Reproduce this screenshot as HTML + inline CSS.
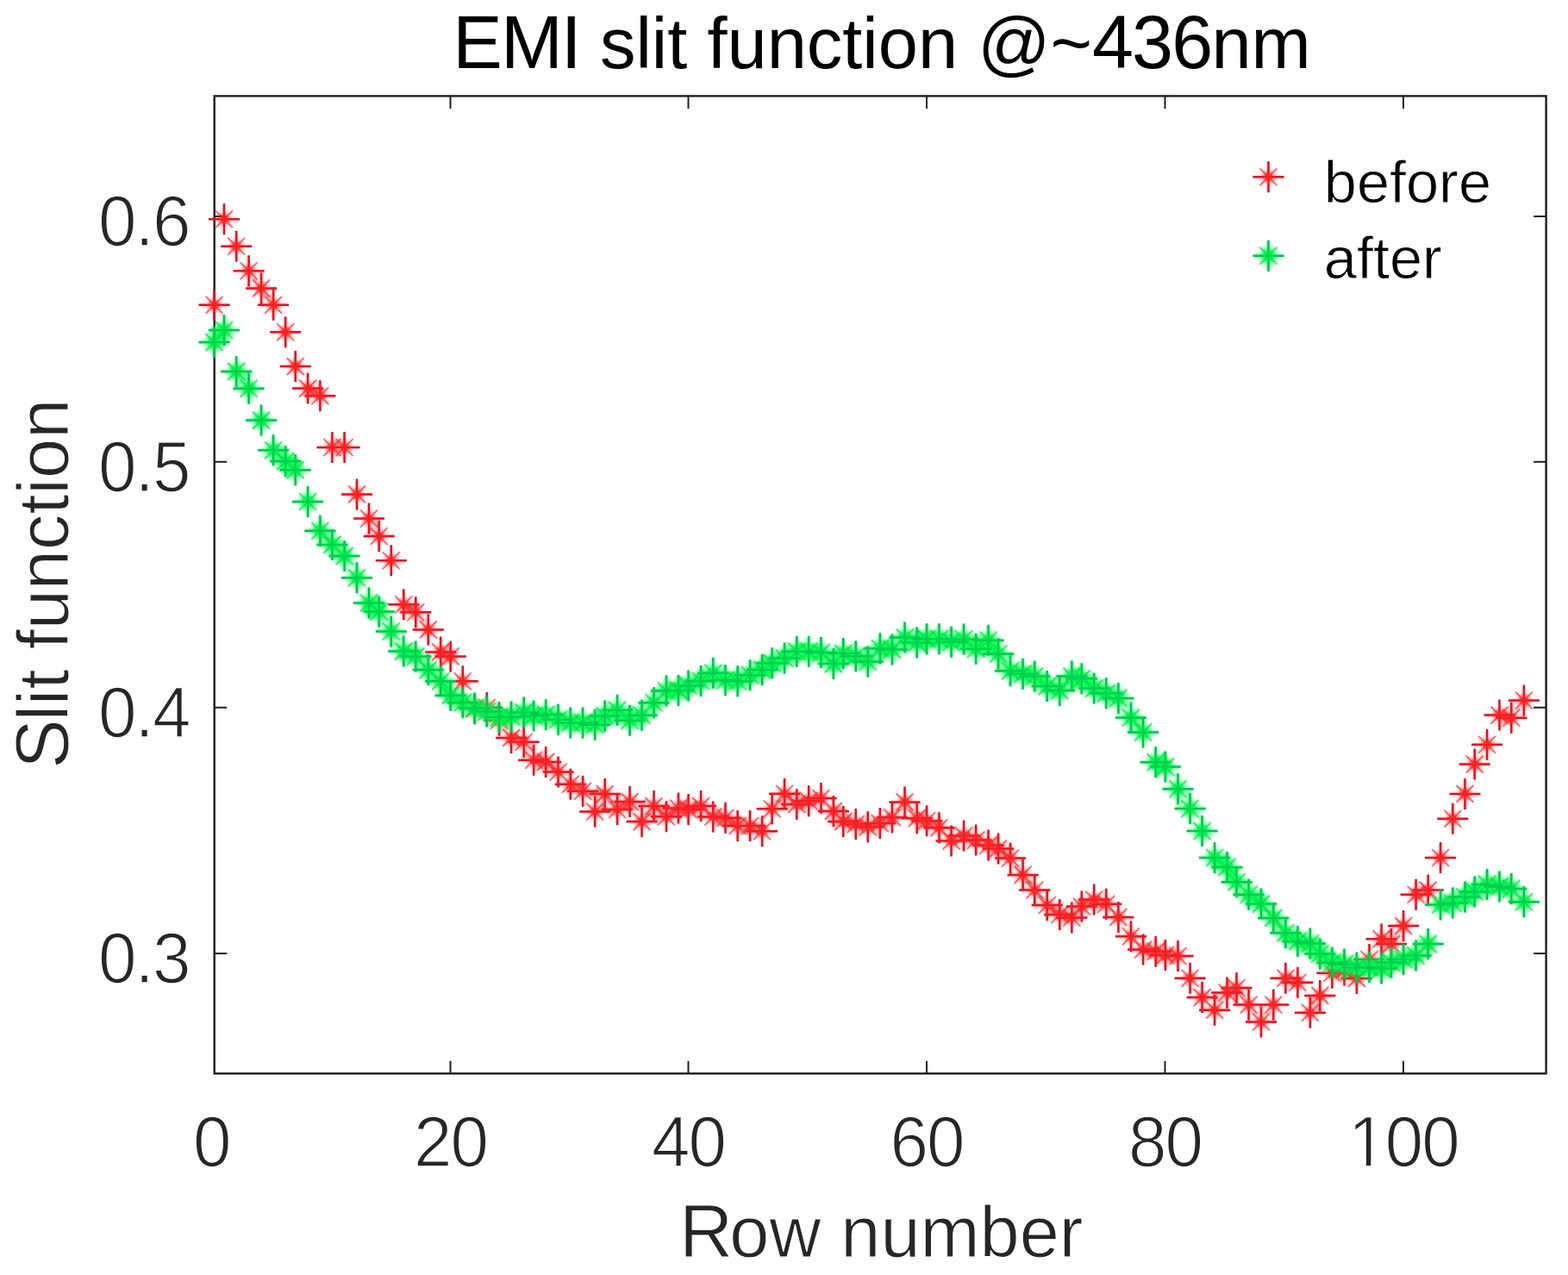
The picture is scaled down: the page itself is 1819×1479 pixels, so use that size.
<!DOCTYPE html>
<html lang="en">
<head>
<meta charset="utf-8">
<title>EMI slit function @~436nm</title>
<style>
html,body{margin:0;padding:0;background:#fff;}
body{width:1819px;height:1479px;overflow:hidden;}
svg{display:block;}
text{font-family:"Liberation Sans",Arial,Helvetica,sans-serif;}
.tk{font-size:80px;fill:#262626;letter-spacing:-1.9px;stroke:#fff;stroke-width:1.5px;}
.lab{font-size:83px;fill:#262626;stroke:#fff;stroke-width:1.0px;}
.ttl{font-size:83px;fill:#000;}
.leg{font-size:68.5px;fill:#000;stroke:#fff;stroke-width:0.8px;}
.rp{stroke:#cc1428;stroke-width:2.5;}
.rd{stroke:#cc1428;stroke-width:1.5;stroke-opacity:0.6;}
.gp{stroke:#00b658;stroke-width:2.5;}
.gd{stroke:#00b658;stroke-width:1.5;stroke-opacity:0.6;}
.ru{stroke:#ff2222;stroke-width:3.0;filter:url(#haloR);opacity:0.2;}
.gu{stroke:#00ff48;stroke-width:3.0;filter:url(#haloG);opacity:0.9;}
.rh{stroke:#ff2222;stroke-width:3.0;filter:url(#haloR);opacity:0.8;}
.gh{stroke:#00ff48;stroke-width:3.0;filter:url(#haloG);opacity:0.35;}
</style>
</head>
<body>
<svg width="1819" height="1479" viewBox="0 0 1819 1479">
<defs>
<filter id="haloR" filterUnits="userSpaceOnUse" x="0" y="0" width="1819" height="1479"><feGaussianBlur stdDeviation="2.2"/><feComponentTransfer><feFuncA type="gamma" amplitude="1.7" exponent="2.5" offset="0"/></feComponentTransfer></filter>
<filter id="haloG" filterUnits="userSpaceOnUse" x="0" y="0" width="1819" height="1479"><feGaussianBlur stdDeviation="2.6"/><feComponentTransfer><feFuncA type="gamma" amplitude="2.4" exponent="2.0" offset="0"/></feComponentTransfer></filter>
</defs>
<rect x="0" y="0" width="1819" height="1479" fill="#ffffff"/>
<text id="title" class="ttl" transform="translate(1023 78.7) scale(1 1.0)" text-anchor="middle"><tspan style="font-size:86.32px;letter-spacing:-1.97px">EMI</tspan> slit function @~<tspan style="font-size:86.32px;letter-spacing:-1.85px">436</tspan>nm</text>
<text id="xlab" class="lab" style="font-size:82.9px" transform="translate(1022.2 1458.0) scale(1 1.0)" text-anchor="middle"><tspan style="font-size:86.22px;letter-spacing:-3.99px">R</tspan>ow number</text>
<text id="ylab" class="lab" transform="translate(78.8 677.2) rotate(-90) scale(1 1.0)" text-anchor="middle"><tspan style="font-size:86.32px;letter-spacing:-2.21px">S</tspan>lit function</text>
<g id="xticks" class="tk" text-anchor="middle">
<text transform="translate(245.3 1353.0) scale(1 1.033)">0</text>
<text transform="translate(522.5 1353.0) scale(1 1.033)">20</text>
<text transform="translate(798.5 1353.0) scale(1 1.033)">40</text>
<text transform="translate(1075.0 1353.0) scale(1 1.033)">60</text>
<text transform="translate(1351.5 1353.0) scale(1 1.033)">80</text>
<text transform="translate(1628.0 1353.0) scale(1 1.033)">100</text>
</g>
<path id="mask1" fill="#fff" d="M1569.0 1346.7h15.9v7.5h-15.9zM1590.3 1346.7h14v7.5h-14z"/>
<g id="yticks" class="tk" text-anchor="end">
<text transform="translate(219.5 285.2) scale(1 1.033)">0.6</text>
<text transform="translate(219.5 570.0) scale(1 1.033)">0.5</text>
<text transform="translate(219.5 855.0) scale(1 1.033)">0.4</text>
<text transform="translate(219.5 1140.2) scale(1 1.033)">0.3</text>
</g>
<g id="axes" fill="none" stroke="#1e1e1e">
<rect x="248.7" y="111.4" width="1544.9" height="1133.9" stroke-width="2.4"/>
<path stroke-width="2.0" d="M522.5 1245.3v-14.5M522.5 111.4v14.5M798.5 1245.3v-14.5M798.5 111.4v14.5M1075 1245.3v-14.5M1075 111.4v14.5M1351.5 1245.3v-14.5M1351.5 111.4v14.5M1628 1245.3v-14.5M1628 111.4v14.5M248.7 251.0h14.5M1793.6 251.0h-14.5M248.7 535.8h14.5M1793.6 535.8h-14.5M248.7 820.8h14.5M1793.6 820.8h-14.5M248.7 1106.0h14.5M1793.6 1106.0h-14.5"/>
</g>
<g id="series" fill="none">
<g id="before">
<path class="ru" d="M230.6 353.8h36.0M248.6 335.8v36.0M242.0 254.3h36.0M260.0 236.3v36.0M256.2 285.8h36.0M274.2 267.8v36.0M270.6 314.2h36.0M288.6 296.2v36.0M285.1 334.4h36.0M303.1 316.4v36.0M299.1 353.8h36.0M317.1 335.8v36.0M313.2 385.2h36.0M331.2 367.2v36.0M324.7 425.1h36.0M342.7 407.1v36.0M339.1 450.6h36.0M357.1 432.6v36.0M353.4 459.3h36.0M371.4 441.3v36.0M367.4 519.0h36.0M385.4 501.0v36.0M381.6 519.0h36.0M399.6 501.0v36.0M396.0 573.4h36.0M414.0 555.4v36.0M410.0 601.5h36.0M428.0 583.5v36.0M421.7 622.0h36.0M439.7 604.0v36.0M435.8 650.3h36.0M453.8 632.3v36.0M450.3 701.2h36.0M468.3 683.2v36.0M464.3 710.2h36.0M482.3 692.2v36.0M478.8 730.4h36.0M496.8 712.4v36.0M493.2 756.4h36.0M511.2 738.4v36.0M504.7 761.4h36.0M522.7 743.4v36.0M518.8 790.3h36.0M536.8 772.3v36.0M532.7 822.2h36.0M550.7 804.2v36.0M546.8 821.0h36.0M564.8 803.0v36.0M561.1 835.5h36.0M579.1 817.5v36.0M575.1 855.9h36.0M593.1 837.9v36.0M589.7 860.7h36.0M607.7 842.7v36.0M601.2 881.8h36.0M619.2 863.8v36.0M615.2 883.9h36.0M633.2 865.9v36.0M629.6 895.5h36.0M647.6 877.5v36.0M643.8 909.8h36.0M661.8 891.8v36.0M658.1 917.8h36.0M676.1 899.8v36.0M672.2 941.5h36.0M690.2 923.5v36.0M683.7 921.1h36.0M701.7 903.1v36.0M698.1 939.0h36.0M716.1 921.0v36.0M712.6 930.1h36.0M730.6 912.1v36.0M726.6 953.1h36.0M744.6 935.1v36.0M740.6 935.1h36.0M758.6 917.1v36.0M755.0 947.3h36.0M773.0 929.3v36.0M769.0 937.5h36.0M787.0 919.5v36.0M780.6 939.0h36.0M798.6 921.0v36.0M795.1 935.1h36.0M813.1 917.1v36.0M809.3 947.5h36.0M827.3 929.5v36.0M823.5 948.8h36.0M841.5 930.8v36.0M837.7 958.0h36.0M855.7 940.0v36.0M852.1 958.0h36.0M870.1 940.0v36.0M866.2 964.2h36.0M884.2 946.2v36.0M877.7 938.3h36.0M895.7 920.3v36.0M892.1 920.7h36.0M910.1 902.7v36.0M906.3 932.9h36.0M924.3 914.9v36.0M920.2 929.3h36.0M938.2 911.3v36.0M934.5 926.0h36.0M952.5 908.0v36.0M948.9 940.9h36.0M966.9 922.9v36.0M960.3 953.1h36.0M978.3 935.1v36.0M974.8 956.0h36.0M992.8 938.0v36.0M988.8 959.2h36.0M1006.8 941.2v36.0M1002.9 955.0h36.0M1020.9 937.0v36.0M1017.0 948.3h36.0M1035.0 930.3v36.0M1031.6 930.4h36.0M1049.6 912.4v36.0M1045.7 949.2h36.0M1063.7 931.2v36.0M1057.1 952.2h36.0M1075.1 934.2v36.0M1071.5 960.3h36.0M1089.5 942.3v36.0M1085.6 975.5h36.0M1103.6 957.5v36.0M1100.1 969.5h36.0M1118.1 951.5v36.0M1114.2 974.5h36.0M1132.2 956.5v36.0M1128.6 980.5h36.0M1146.6 962.5v36.0M1140.1 984.5h36.0M1158.1 966.5v36.0M1154.1 995.5h36.0M1172.1 977.5v36.0M1168.6 1014.9h36.0M1186.6 996.9v36.0M1182.3 1032.5h36.0M1200.3 1014.5v36.0M1196.7 1050.0h36.0M1214.7 1032.0v36.0M1211.3 1061.0h36.0M1229.3 1043.0v36.0M1225.4 1064.5h36.0M1243.4 1046.5v36.0M1236.8 1051.5h36.0M1254.8 1033.5v36.0M1251.2 1043.5h36.0M1269.2 1025.5v36.0M1265.3 1048.8h36.0M1283.3 1030.8v36.0M1279.4 1063.9h36.0M1297.4 1045.9v36.0M1294.0 1086.3h36.0M1312.0 1068.3v36.0M1308.1 1101.5h36.0M1326.1 1083.5v36.0M1322.7 1103.7h36.0M1340.7 1085.7v36.0M1333.9 1108.1h36.0M1351.9 1090.1v36.0M1348.5 1109.0h36.0M1366.5 1091.0v36.0M1362.6 1134.8h36.0M1380.6 1116.8v36.0M1376.6 1157.1h36.0M1394.6 1139.1v36.0M1391.1 1171.8h36.0M1409.1 1153.8v36.0M1405.5 1151.5h36.0M1423.5 1133.5v36.0M1416.5 1146.0h36.0M1434.5 1128.0v36.0M1430.6 1165.5h36.0M1448.6 1147.5v36.0M1445.0 1185.5h36.0M1463.0 1167.5v36.0M1459.3 1165.5h36.0M1477.3 1147.5v36.0M1473.4 1134.7h36.0M1491.4 1116.7v36.0M1487.4 1139.8h36.0M1505.4 1121.8v36.0M1501.9 1174.8h36.0M1519.9 1156.8v36.0M1513.3 1154.9h36.0M1531.3 1136.9v36.0M1527.4 1128.8h36.0M1545.4 1110.8v36.0M1541.5 1125.5h36.0M1559.5 1107.5v36.0M1555.9 1134.9h36.0M1573.9 1116.9v36.0M1570.5 1113.0h36.0M1588.5 1095.0v36.0M1584.6 1089.2h36.0M1602.6 1071.2v36.0M1596.0 1095.1h36.0M1614.0 1077.1v36.0M1610.1 1074.1h36.0M1628.1 1056.1v36.0M1624.6 1037.8h36.0M1642.6 1019.8v36.0M1638.7 1032.6h36.0M1656.7 1014.6v36.0M1653.1 995.0h36.0M1671.1 977.0v36.0M1667.3 949.8h36.0M1685.3 931.8v36.0M1681.5 920.9h36.0M1699.5 902.9v36.0M1692.7 886.6h36.0M1710.7 868.6v36.0M1707.1 863.7h36.0M1725.1 845.7v36.0M1721.5 829.6h36.0M1739.5 811.6v36.0M1735.3 832.8h36.0M1753.3 814.8v36.0M1749.9 812.5h36.0M1767.9 794.5v36.0M1453.5 205.3h36.0M1471.5 187.3v36.0M238.6 343.8l20.0 20.0M238.6 363.8l20.0 -20.0M250.0 244.3l20.0 20.0M250.0 264.3l20.0 -20.0M264.2 275.8l20.0 20.0M264.2 295.8l20.0 -20.0M278.6 304.2l20.0 20.0M278.6 324.2l20.0 -20.0M293.1 324.4l20.0 20.0M293.1 344.4l20.0 -20.0M307.1 343.8l20.0 20.0M307.1 363.8l20.0 -20.0M321.2 375.2l20.0 20.0M321.2 395.2l20.0 -20.0M332.7 415.1l20.0 20.0M332.7 435.1l20.0 -20.0M347.1 440.6l20.0 20.0M347.1 460.6l20.0 -20.0M361.4 449.3l20.0 20.0M361.4 469.3l20.0 -20.0M375.4 509.0l20.0 20.0M375.4 529.0l20.0 -20.0M389.6 509.0l20.0 20.0M389.6 529.0l20.0 -20.0M404.0 563.4l20.0 20.0M404.0 583.4l20.0 -20.0M418.0 591.5l20.0 20.0M418.0 611.5l20.0 -20.0M429.7 612.0l20.0 20.0M429.7 632.0l20.0 -20.0M443.8 640.3l20.0 20.0M443.8 660.3l20.0 -20.0M458.3 691.2l20.0 20.0M458.3 711.2l20.0 -20.0M472.3 700.2l20.0 20.0M472.3 720.2l20.0 -20.0M486.8 720.4l20.0 20.0M486.8 740.4l20.0 -20.0M501.2 746.4l20.0 20.0M501.2 766.4l20.0 -20.0M512.7 751.4l20.0 20.0M512.7 771.4l20.0 -20.0M526.8 780.3l20.0 20.0M526.8 800.3l20.0 -20.0M540.7 812.2l20.0 20.0M540.7 832.2l20.0 -20.0M554.8 811.0l20.0 20.0M554.8 831.0l20.0 -20.0M569.1 825.5l20.0 20.0M569.1 845.5l20.0 -20.0M583.1 845.9l20.0 20.0M583.1 865.9l20.0 -20.0M597.7 850.7l20.0 20.0M597.7 870.7l20.0 -20.0M609.2 871.8l20.0 20.0M609.2 891.8l20.0 -20.0M623.2 873.9l20.0 20.0M623.2 893.9l20.0 -20.0M637.6 885.5l20.0 20.0M637.6 905.5l20.0 -20.0M651.8 899.8l20.0 20.0M651.8 919.8l20.0 -20.0M666.1 907.8l20.0 20.0M666.1 927.8l20.0 -20.0M680.2 931.5l20.0 20.0M680.2 951.5l20.0 -20.0M691.7 911.1l20.0 20.0M691.7 931.1l20.0 -20.0M706.1 929.0l20.0 20.0M706.1 949.0l20.0 -20.0M720.6 920.1l20.0 20.0M720.6 940.1l20.0 -20.0M734.6 943.1l20.0 20.0M734.6 963.1l20.0 -20.0M748.6 925.1l20.0 20.0M748.6 945.1l20.0 -20.0M763.0 937.3l20.0 20.0M763.0 957.3l20.0 -20.0M777.0 927.5l20.0 20.0M777.0 947.5l20.0 -20.0M788.6 929.0l20.0 20.0M788.6 949.0l20.0 -20.0M803.1 925.1l20.0 20.0M803.1 945.1l20.0 -20.0M817.3 937.5l20.0 20.0M817.3 957.5l20.0 -20.0M831.5 938.8l20.0 20.0M831.5 958.8l20.0 -20.0M845.7 948.0l20.0 20.0M845.7 968.0l20.0 -20.0M860.1 948.0l20.0 20.0M860.1 968.0l20.0 -20.0M874.2 954.2l20.0 20.0M874.2 974.2l20.0 -20.0M885.7 928.3l20.0 20.0M885.7 948.3l20.0 -20.0M900.1 910.7l20.0 20.0M900.1 930.7l20.0 -20.0M914.3 922.9l20.0 20.0M914.3 942.9l20.0 -20.0M928.2 919.3l20.0 20.0M928.2 939.3l20.0 -20.0M942.5 916.0l20.0 20.0M942.5 936.0l20.0 -20.0M956.9 930.9l20.0 20.0M956.9 950.9l20.0 -20.0M968.3 943.1l20.0 20.0M968.3 963.1l20.0 -20.0M982.8 946.0l20.0 20.0M982.8 966.0l20.0 -20.0M996.8 949.2l20.0 20.0M996.8 969.2l20.0 -20.0M1010.9 945.0l20.0 20.0M1010.9 965.0l20.0 -20.0M1025.0 938.3l20.0 20.0M1025.0 958.3l20.0 -20.0M1039.6 920.4l20.0 20.0M1039.6 940.4l20.0 -20.0M1053.7 939.2l20.0 20.0M1053.7 959.2l20.0 -20.0M1065.1 942.2l20.0 20.0M1065.1 962.2l20.0 -20.0M1079.5 950.3l20.0 20.0M1079.5 970.3l20.0 -20.0M1093.6 965.5l20.0 20.0M1093.6 985.5l20.0 -20.0M1108.1 959.5l20.0 20.0M1108.1 979.5l20.0 -20.0M1122.2 964.5l20.0 20.0M1122.2 984.5l20.0 -20.0M1136.6 970.5l20.0 20.0M1136.6 990.5l20.0 -20.0M1148.1 974.5l20.0 20.0M1148.1 994.5l20.0 -20.0M1162.1 985.5l20.0 20.0M1162.1 1005.5l20.0 -20.0M1176.6 1004.9l20.0 20.0M1176.6 1024.9l20.0 -20.0M1190.3 1022.5l20.0 20.0M1190.3 1042.5l20.0 -20.0M1204.7 1040.0l20.0 20.0M1204.7 1060.0l20.0 -20.0M1219.3 1051.0l20.0 20.0M1219.3 1071.0l20.0 -20.0M1233.4 1054.5l20.0 20.0M1233.4 1074.5l20.0 -20.0M1244.8 1041.5l20.0 20.0M1244.8 1061.5l20.0 -20.0M1259.2 1033.5l20.0 20.0M1259.2 1053.5l20.0 -20.0M1273.3 1038.8l20.0 20.0M1273.3 1058.8l20.0 -20.0M1287.4 1053.9l20.0 20.0M1287.4 1073.9l20.0 -20.0M1302.0 1076.3l20.0 20.0M1302.0 1096.3l20.0 -20.0M1316.1 1091.5l20.0 20.0M1316.1 1111.5l20.0 -20.0M1330.7 1093.7l20.0 20.0M1330.7 1113.7l20.0 -20.0M1341.9 1098.1l20.0 20.0M1341.9 1118.1l20.0 -20.0M1356.5 1099.0l20.0 20.0M1356.5 1119.0l20.0 -20.0M1370.6 1124.8l20.0 20.0M1370.6 1144.8l20.0 -20.0M1384.6 1147.1l20.0 20.0M1384.6 1167.1l20.0 -20.0M1399.1 1161.8l20.0 20.0M1399.1 1181.8l20.0 -20.0M1413.5 1141.5l20.0 20.0M1413.5 1161.5l20.0 -20.0M1424.5 1136.0l20.0 20.0M1424.5 1156.0l20.0 -20.0M1438.6 1155.5l20.0 20.0M1438.6 1175.5l20.0 -20.0M1453.0 1175.5l20.0 20.0M1453.0 1195.5l20.0 -20.0M1467.3 1155.5l20.0 20.0M1467.3 1175.5l20.0 -20.0M1481.4 1124.7l20.0 20.0M1481.4 1144.7l20.0 -20.0M1495.4 1129.8l20.0 20.0M1495.4 1149.8l20.0 -20.0M1509.9 1164.8l20.0 20.0M1509.9 1184.8l20.0 -20.0M1521.3 1144.9l20.0 20.0M1521.3 1164.9l20.0 -20.0M1535.4 1118.8l20.0 20.0M1535.4 1138.8l20.0 -20.0M1549.5 1115.5l20.0 20.0M1549.5 1135.5l20.0 -20.0M1563.9 1124.9l20.0 20.0M1563.9 1144.9l20.0 -20.0M1578.5 1103.0l20.0 20.0M1578.5 1123.0l20.0 -20.0M1592.6 1079.2l20.0 20.0M1592.6 1099.2l20.0 -20.0M1604.0 1085.1l20.0 20.0M1604.0 1105.1l20.0 -20.0M1618.1 1064.1l20.0 20.0M1618.1 1084.1l20.0 -20.0M1632.6 1027.8l20.0 20.0M1632.6 1047.8l20.0 -20.0M1646.7 1022.6l20.0 20.0M1646.7 1042.6l20.0 -20.0M1661.1 985.0l20.0 20.0M1661.1 1005.0l20.0 -20.0M1675.3 939.8l20.0 20.0M1675.3 959.8l20.0 -20.0M1689.5 910.9l20.0 20.0M1689.5 930.9l20.0 -20.0M1700.7 876.6l20.0 20.0M1700.7 896.6l20.0 -20.0M1715.1 853.7l20.0 20.0M1715.1 873.7l20.0 -20.0M1729.5 819.6l20.0 20.0M1729.5 839.6l20.0 -20.0M1743.3 822.8l20.0 20.0M1743.3 842.8l20.0 -20.0M1757.9 802.5l20.0 20.0M1757.9 822.5l20.0 -20.0M1461.5 195.3l20.0 20.0M1461.5 215.3l20.0 -20.0"/>
<path class="rd" d="M238.6 343.8l20.0 20.0M238.6 363.8l20.0 -20.0M250.0 244.3l20.0 20.0M250.0 264.3l20.0 -20.0M264.2 275.8l20.0 20.0M264.2 295.8l20.0 -20.0M278.6 304.2l20.0 20.0M278.6 324.2l20.0 -20.0M293.1 324.4l20.0 20.0M293.1 344.4l20.0 -20.0M307.1 343.8l20.0 20.0M307.1 363.8l20.0 -20.0M321.2 375.2l20.0 20.0M321.2 395.2l20.0 -20.0M332.7 415.1l20.0 20.0M332.7 435.1l20.0 -20.0M347.1 440.6l20.0 20.0M347.1 460.6l20.0 -20.0M361.4 449.3l20.0 20.0M361.4 469.3l20.0 -20.0M375.4 509.0l20.0 20.0M375.4 529.0l20.0 -20.0M389.6 509.0l20.0 20.0M389.6 529.0l20.0 -20.0M404.0 563.4l20.0 20.0M404.0 583.4l20.0 -20.0M418.0 591.5l20.0 20.0M418.0 611.5l20.0 -20.0M429.7 612.0l20.0 20.0M429.7 632.0l20.0 -20.0M443.8 640.3l20.0 20.0M443.8 660.3l20.0 -20.0M458.3 691.2l20.0 20.0M458.3 711.2l20.0 -20.0M472.3 700.2l20.0 20.0M472.3 720.2l20.0 -20.0M486.8 720.4l20.0 20.0M486.8 740.4l20.0 -20.0M501.2 746.4l20.0 20.0M501.2 766.4l20.0 -20.0M512.7 751.4l20.0 20.0M512.7 771.4l20.0 -20.0M526.8 780.3l20.0 20.0M526.8 800.3l20.0 -20.0M540.7 812.2l20.0 20.0M540.7 832.2l20.0 -20.0M554.8 811.0l20.0 20.0M554.8 831.0l20.0 -20.0M569.1 825.5l20.0 20.0M569.1 845.5l20.0 -20.0M583.1 845.9l20.0 20.0M583.1 865.9l20.0 -20.0M597.7 850.7l20.0 20.0M597.7 870.7l20.0 -20.0M609.2 871.8l20.0 20.0M609.2 891.8l20.0 -20.0M623.2 873.9l20.0 20.0M623.2 893.9l20.0 -20.0M637.6 885.5l20.0 20.0M637.6 905.5l20.0 -20.0M651.8 899.8l20.0 20.0M651.8 919.8l20.0 -20.0M666.1 907.8l20.0 20.0M666.1 927.8l20.0 -20.0M680.2 931.5l20.0 20.0M680.2 951.5l20.0 -20.0M691.7 911.1l20.0 20.0M691.7 931.1l20.0 -20.0M706.1 929.0l20.0 20.0M706.1 949.0l20.0 -20.0M720.6 920.1l20.0 20.0M720.6 940.1l20.0 -20.0M734.6 943.1l20.0 20.0M734.6 963.1l20.0 -20.0M748.6 925.1l20.0 20.0M748.6 945.1l20.0 -20.0M763.0 937.3l20.0 20.0M763.0 957.3l20.0 -20.0M777.0 927.5l20.0 20.0M777.0 947.5l20.0 -20.0M788.6 929.0l20.0 20.0M788.6 949.0l20.0 -20.0M803.1 925.1l20.0 20.0M803.1 945.1l20.0 -20.0M817.3 937.5l20.0 20.0M817.3 957.5l20.0 -20.0M831.5 938.8l20.0 20.0M831.5 958.8l20.0 -20.0M845.7 948.0l20.0 20.0M845.7 968.0l20.0 -20.0M860.1 948.0l20.0 20.0M860.1 968.0l20.0 -20.0M874.2 954.2l20.0 20.0M874.2 974.2l20.0 -20.0M885.7 928.3l20.0 20.0M885.7 948.3l20.0 -20.0M900.1 910.7l20.0 20.0M900.1 930.7l20.0 -20.0M914.3 922.9l20.0 20.0M914.3 942.9l20.0 -20.0M928.2 919.3l20.0 20.0M928.2 939.3l20.0 -20.0M942.5 916.0l20.0 20.0M942.5 936.0l20.0 -20.0M956.9 930.9l20.0 20.0M956.9 950.9l20.0 -20.0M968.3 943.1l20.0 20.0M968.3 963.1l20.0 -20.0M982.8 946.0l20.0 20.0M982.8 966.0l20.0 -20.0M996.8 949.2l20.0 20.0M996.8 969.2l20.0 -20.0M1010.9 945.0l20.0 20.0M1010.9 965.0l20.0 -20.0M1025.0 938.3l20.0 20.0M1025.0 958.3l20.0 -20.0M1039.6 920.4l20.0 20.0M1039.6 940.4l20.0 -20.0M1053.7 939.2l20.0 20.0M1053.7 959.2l20.0 -20.0M1065.1 942.2l20.0 20.0M1065.1 962.2l20.0 -20.0M1079.5 950.3l20.0 20.0M1079.5 970.3l20.0 -20.0M1093.6 965.5l20.0 20.0M1093.6 985.5l20.0 -20.0M1108.1 959.5l20.0 20.0M1108.1 979.5l20.0 -20.0M1122.2 964.5l20.0 20.0M1122.2 984.5l20.0 -20.0M1136.6 970.5l20.0 20.0M1136.6 990.5l20.0 -20.0M1148.1 974.5l20.0 20.0M1148.1 994.5l20.0 -20.0M1162.1 985.5l20.0 20.0M1162.1 1005.5l20.0 -20.0M1176.6 1004.9l20.0 20.0M1176.6 1024.9l20.0 -20.0M1190.3 1022.5l20.0 20.0M1190.3 1042.5l20.0 -20.0M1204.7 1040.0l20.0 20.0M1204.7 1060.0l20.0 -20.0M1219.3 1051.0l20.0 20.0M1219.3 1071.0l20.0 -20.0M1233.4 1054.5l20.0 20.0M1233.4 1074.5l20.0 -20.0M1244.8 1041.5l20.0 20.0M1244.8 1061.5l20.0 -20.0M1259.2 1033.5l20.0 20.0M1259.2 1053.5l20.0 -20.0M1273.3 1038.8l20.0 20.0M1273.3 1058.8l20.0 -20.0M1287.4 1053.9l20.0 20.0M1287.4 1073.9l20.0 -20.0M1302.0 1076.3l20.0 20.0M1302.0 1096.3l20.0 -20.0M1316.1 1091.5l20.0 20.0M1316.1 1111.5l20.0 -20.0M1330.7 1093.7l20.0 20.0M1330.7 1113.7l20.0 -20.0M1341.9 1098.1l20.0 20.0M1341.9 1118.1l20.0 -20.0M1356.5 1099.0l20.0 20.0M1356.5 1119.0l20.0 -20.0M1370.6 1124.8l20.0 20.0M1370.6 1144.8l20.0 -20.0M1384.6 1147.1l20.0 20.0M1384.6 1167.1l20.0 -20.0M1399.1 1161.8l20.0 20.0M1399.1 1181.8l20.0 -20.0M1413.5 1141.5l20.0 20.0M1413.5 1161.5l20.0 -20.0M1424.5 1136.0l20.0 20.0M1424.5 1156.0l20.0 -20.0M1438.6 1155.5l20.0 20.0M1438.6 1175.5l20.0 -20.0M1453.0 1175.5l20.0 20.0M1453.0 1195.5l20.0 -20.0M1467.3 1155.5l20.0 20.0M1467.3 1175.5l20.0 -20.0M1481.4 1124.7l20.0 20.0M1481.4 1144.7l20.0 -20.0M1495.4 1129.8l20.0 20.0M1495.4 1149.8l20.0 -20.0M1509.9 1164.8l20.0 20.0M1509.9 1184.8l20.0 -20.0M1521.3 1144.9l20.0 20.0M1521.3 1164.9l20.0 -20.0M1535.4 1118.8l20.0 20.0M1535.4 1138.8l20.0 -20.0M1549.5 1115.5l20.0 20.0M1549.5 1135.5l20.0 -20.0M1563.9 1124.9l20.0 20.0M1563.9 1144.9l20.0 -20.0M1578.5 1103.0l20.0 20.0M1578.5 1123.0l20.0 -20.0M1592.6 1079.2l20.0 20.0M1592.6 1099.2l20.0 -20.0M1604.0 1085.1l20.0 20.0M1604.0 1105.1l20.0 -20.0M1618.1 1064.1l20.0 20.0M1618.1 1084.1l20.0 -20.0M1632.6 1027.8l20.0 20.0M1632.6 1047.8l20.0 -20.0M1646.7 1022.6l20.0 20.0M1646.7 1042.6l20.0 -20.0M1661.1 985.0l20.0 20.0M1661.1 1005.0l20.0 -20.0M1675.3 939.8l20.0 20.0M1675.3 959.8l20.0 -20.0M1689.5 910.9l20.0 20.0M1689.5 930.9l20.0 -20.0M1700.7 876.6l20.0 20.0M1700.7 896.6l20.0 -20.0M1715.1 853.7l20.0 20.0M1715.1 873.7l20.0 -20.0M1729.5 819.6l20.0 20.0M1729.5 839.6l20.0 -20.0M1743.3 822.8l20.0 20.0M1743.3 842.8l20.0 -20.0M1757.9 802.5l20.0 20.0M1757.9 822.5l20.0 -20.0M1461.5 195.3l20.0 20.0M1461.5 215.3l20.0 -20.0"/>
<path class="rp" d="M230.6 353.8h36.0M248.6 335.8v36.0M242.0 254.3h36.0M260.0 236.3v36.0M256.2 285.8h36.0M274.2 267.8v36.0M270.6 314.2h36.0M288.6 296.2v36.0M285.1 334.4h36.0M303.1 316.4v36.0M299.1 353.8h36.0M317.1 335.8v36.0M313.2 385.2h36.0M331.2 367.2v36.0M324.7 425.1h36.0M342.7 407.1v36.0M339.1 450.6h36.0M357.1 432.6v36.0M353.4 459.3h36.0M371.4 441.3v36.0M367.4 519.0h36.0M385.4 501.0v36.0M381.6 519.0h36.0M399.6 501.0v36.0M396.0 573.4h36.0M414.0 555.4v36.0M410.0 601.5h36.0M428.0 583.5v36.0M421.7 622.0h36.0M439.7 604.0v36.0M435.8 650.3h36.0M453.8 632.3v36.0M450.3 701.2h36.0M468.3 683.2v36.0M464.3 710.2h36.0M482.3 692.2v36.0M478.8 730.4h36.0M496.8 712.4v36.0M493.2 756.4h36.0M511.2 738.4v36.0M504.7 761.4h36.0M522.7 743.4v36.0M518.8 790.3h36.0M536.8 772.3v36.0M532.7 822.2h36.0M550.7 804.2v36.0M546.8 821.0h36.0M564.8 803.0v36.0M561.1 835.5h36.0M579.1 817.5v36.0M575.1 855.9h36.0M593.1 837.9v36.0M589.7 860.7h36.0M607.7 842.7v36.0M601.2 881.8h36.0M619.2 863.8v36.0M615.2 883.9h36.0M633.2 865.9v36.0M629.6 895.5h36.0M647.6 877.5v36.0M643.8 909.8h36.0M661.8 891.8v36.0M658.1 917.8h36.0M676.1 899.8v36.0M672.2 941.5h36.0M690.2 923.5v36.0M683.7 921.1h36.0M701.7 903.1v36.0M698.1 939.0h36.0M716.1 921.0v36.0M712.6 930.1h36.0M730.6 912.1v36.0M726.6 953.1h36.0M744.6 935.1v36.0M740.6 935.1h36.0M758.6 917.1v36.0M755.0 947.3h36.0M773.0 929.3v36.0M769.0 937.5h36.0M787.0 919.5v36.0M780.6 939.0h36.0M798.6 921.0v36.0M795.1 935.1h36.0M813.1 917.1v36.0M809.3 947.5h36.0M827.3 929.5v36.0M823.5 948.8h36.0M841.5 930.8v36.0M837.7 958.0h36.0M855.7 940.0v36.0M852.1 958.0h36.0M870.1 940.0v36.0M866.2 964.2h36.0M884.2 946.2v36.0M877.7 938.3h36.0M895.7 920.3v36.0M892.1 920.7h36.0M910.1 902.7v36.0M906.3 932.9h36.0M924.3 914.9v36.0M920.2 929.3h36.0M938.2 911.3v36.0M934.5 926.0h36.0M952.5 908.0v36.0M948.9 940.9h36.0M966.9 922.9v36.0M960.3 953.1h36.0M978.3 935.1v36.0M974.8 956.0h36.0M992.8 938.0v36.0M988.8 959.2h36.0M1006.8 941.2v36.0M1002.9 955.0h36.0M1020.9 937.0v36.0M1017.0 948.3h36.0M1035.0 930.3v36.0M1031.6 930.4h36.0M1049.6 912.4v36.0M1045.7 949.2h36.0M1063.7 931.2v36.0M1057.1 952.2h36.0M1075.1 934.2v36.0M1071.5 960.3h36.0M1089.5 942.3v36.0M1085.6 975.5h36.0M1103.6 957.5v36.0M1100.1 969.5h36.0M1118.1 951.5v36.0M1114.2 974.5h36.0M1132.2 956.5v36.0M1128.6 980.5h36.0M1146.6 962.5v36.0M1140.1 984.5h36.0M1158.1 966.5v36.0M1154.1 995.5h36.0M1172.1 977.5v36.0M1168.6 1014.9h36.0M1186.6 996.9v36.0M1182.3 1032.5h36.0M1200.3 1014.5v36.0M1196.7 1050.0h36.0M1214.7 1032.0v36.0M1211.3 1061.0h36.0M1229.3 1043.0v36.0M1225.4 1064.5h36.0M1243.4 1046.5v36.0M1236.8 1051.5h36.0M1254.8 1033.5v36.0M1251.2 1043.5h36.0M1269.2 1025.5v36.0M1265.3 1048.8h36.0M1283.3 1030.8v36.0M1279.4 1063.9h36.0M1297.4 1045.9v36.0M1294.0 1086.3h36.0M1312.0 1068.3v36.0M1308.1 1101.5h36.0M1326.1 1083.5v36.0M1322.7 1103.7h36.0M1340.7 1085.7v36.0M1333.9 1108.1h36.0M1351.9 1090.1v36.0M1348.5 1109.0h36.0M1366.5 1091.0v36.0M1362.6 1134.8h36.0M1380.6 1116.8v36.0M1376.6 1157.1h36.0M1394.6 1139.1v36.0M1391.1 1171.8h36.0M1409.1 1153.8v36.0M1405.5 1151.5h36.0M1423.5 1133.5v36.0M1416.5 1146.0h36.0M1434.5 1128.0v36.0M1430.6 1165.5h36.0M1448.6 1147.5v36.0M1445.0 1185.5h36.0M1463.0 1167.5v36.0M1459.3 1165.5h36.0M1477.3 1147.5v36.0M1473.4 1134.7h36.0M1491.4 1116.7v36.0M1487.4 1139.8h36.0M1505.4 1121.8v36.0M1501.9 1174.8h36.0M1519.9 1156.8v36.0M1513.3 1154.9h36.0M1531.3 1136.9v36.0M1527.4 1128.8h36.0M1545.4 1110.8v36.0M1541.5 1125.5h36.0M1559.5 1107.5v36.0M1555.9 1134.9h36.0M1573.9 1116.9v36.0M1570.5 1113.0h36.0M1588.5 1095.0v36.0M1584.6 1089.2h36.0M1602.6 1071.2v36.0M1596.0 1095.1h36.0M1614.0 1077.1v36.0M1610.1 1074.1h36.0M1628.1 1056.1v36.0M1624.6 1037.8h36.0M1642.6 1019.8v36.0M1638.7 1032.6h36.0M1656.7 1014.6v36.0M1653.1 995.0h36.0M1671.1 977.0v36.0M1667.3 949.8h36.0M1685.3 931.8v36.0M1681.5 920.9h36.0M1699.5 902.9v36.0M1692.7 886.6h36.0M1710.7 868.6v36.0M1707.1 863.7h36.0M1725.1 845.7v36.0M1721.5 829.6h36.0M1739.5 811.6v36.0M1735.3 832.8h36.0M1753.3 814.8v36.0M1749.9 812.5h36.0M1767.9 794.5v36.0M1453.5 205.3h36.0M1471.5 187.3v36.0"/>
<path class="rh" d="M230.6 353.8h36.0M248.6 335.8v36.0M242.0 254.3h36.0M260.0 236.3v36.0M256.2 285.8h36.0M274.2 267.8v36.0M270.6 314.2h36.0M288.6 296.2v36.0M285.1 334.4h36.0M303.1 316.4v36.0M299.1 353.8h36.0M317.1 335.8v36.0M313.2 385.2h36.0M331.2 367.2v36.0M324.7 425.1h36.0M342.7 407.1v36.0M339.1 450.6h36.0M357.1 432.6v36.0M353.4 459.3h36.0M371.4 441.3v36.0M367.4 519.0h36.0M385.4 501.0v36.0M381.6 519.0h36.0M399.6 501.0v36.0M396.0 573.4h36.0M414.0 555.4v36.0M410.0 601.5h36.0M428.0 583.5v36.0M421.7 622.0h36.0M439.7 604.0v36.0M435.8 650.3h36.0M453.8 632.3v36.0M450.3 701.2h36.0M468.3 683.2v36.0M464.3 710.2h36.0M482.3 692.2v36.0M478.8 730.4h36.0M496.8 712.4v36.0M493.2 756.4h36.0M511.2 738.4v36.0M504.7 761.4h36.0M522.7 743.4v36.0M518.8 790.3h36.0M536.8 772.3v36.0M532.7 822.2h36.0M550.7 804.2v36.0M546.8 821.0h36.0M564.8 803.0v36.0M561.1 835.5h36.0M579.1 817.5v36.0M575.1 855.9h36.0M593.1 837.9v36.0M589.7 860.7h36.0M607.7 842.7v36.0M601.2 881.8h36.0M619.2 863.8v36.0M615.2 883.9h36.0M633.2 865.9v36.0M629.6 895.5h36.0M647.6 877.5v36.0M643.8 909.8h36.0M661.8 891.8v36.0M658.1 917.8h36.0M676.1 899.8v36.0M672.2 941.5h36.0M690.2 923.5v36.0M683.7 921.1h36.0M701.7 903.1v36.0M698.1 939.0h36.0M716.1 921.0v36.0M712.6 930.1h36.0M730.6 912.1v36.0M726.6 953.1h36.0M744.6 935.1v36.0M740.6 935.1h36.0M758.6 917.1v36.0M755.0 947.3h36.0M773.0 929.3v36.0M769.0 937.5h36.0M787.0 919.5v36.0M780.6 939.0h36.0M798.6 921.0v36.0M795.1 935.1h36.0M813.1 917.1v36.0M809.3 947.5h36.0M827.3 929.5v36.0M823.5 948.8h36.0M841.5 930.8v36.0M837.7 958.0h36.0M855.7 940.0v36.0M852.1 958.0h36.0M870.1 940.0v36.0M866.2 964.2h36.0M884.2 946.2v36.0M877.7 938.3h36.0M895.7 920.3v36.0M892.1 920.7h36.0M910.1 902.7v36.0M906.3 932.9h36.0M924.3 914.9v36.0M920.2 929.3h36.0M938.2 911.3v36.0M934.5 926.0h36.0M952.5 908.0v36.0M948.9 940.9h36.0M966.9 922.9v36.0M960.3 953.1h36.0M978.3 935.1v36.0M974.8 956.0h36.0M992.8 938.0v36.0M988.8 959.2h36.0M1006.8 941.2v36.0M1002.9 955.0h36.0M1020.9 937.0v36.0M1017.0 948.3h36.0M1035.0 930.3v36.0M1031.6 930.4h36.0M1049.6 912.4v36.0M1045.7 949.2h36.0M1063.7 931.2v36.0M1057.1 952.2h36.0M1075.1 934.2v36.0M1071.5 960.3h36.0M1089.5 942.3v36.0M1085.6 975.5h36.0M1103.6 957.5v36.0M1100.1 969.5h36.0M1118.1 951.5v36.0M1114.2 974.5h36.0M1132.2 956.5v36.0M1128.6 980.5h36.0M1146.6 962.5v36.0M1140.1 984.5h36.0M1158.1 966.5v36.0M1154.1 995.5h36.0M1172.1 977.5v36.0M1168.6 1014.9h36.0M1186.6 996.9v36.0M1182.3 1032.5h36.0M1200.3 1014.5v36.0M1196.7 1050.0h36.0M1214.7 1032.0v36.0M1211.3 1061.0h36.0M1229.3 1043.0v36.0M1225.4 1064.5h36.0M1243.4 1046.5v36.0M1236.8 1051.5h36.0M1254.8 1033.5v36.0M1251.2 1043.5h36.0M1269.2 1025.5v36.0M1265.3 1048.8h36.0M1283.3 1030.8v36.0M1279.4 1063.9h36.0M1297.4 1045.9v36.0M1294.0 1086.3h36.0M1312.0 1068.3v36.0M1308.1 1101.5h36.0M1326.1 1083.5v36.0M1322.7 1103.7h36.0M1340.7 1085.7v36.0M1333.9 1108.1h36.0M1351.9 1090.1v36.0M1348.5 1109.0h36.0M1366.5 1091.0v36.0M1362.6 1134.8h36.0M1380.6 1116.8v36.0M1376.6 1157.1h36.0M1394.6 1139.1v36.0M1391.1 1171.8h36.0M1409.1 1153.8v36.0M1405.5 1151.5h36.0M1423.5 1133.5v36.0M1416.5 1146.0h36.0M1434.5 1128.0v36.0M1430.6 1165.5h36.0M1448.6 1147.5v36.0M1445.0 1185.5h36.0M1463.0 1167.5v36.0M1459.3 1165.5h36.0M1477.3 1147.5v36.0M1473.4 1134.7h36.0M1491.4 1116.7v36.0M1487.4 1139.8h36.0M1505.4 1121.8v36.0M1501.9 1174.8h36.0M1519.9 1156.8v36.0M1513.3 1154.9h36.0M1531.3 1136.9v36.0M1527.4 1128.8h36.0M1545.4 1110.8v36.0M1541.5 1125.5h36.0M1559.5 1107.5v36.0M1555.9 1134.9h36.0M1573.9 1116.9v36.0M1570.5 1113.0h36.0M1588.5 1095.0v36.0M1584.6 1089.2h36.0M1602.6 1071.2v36.0M1596.0 1095.1h36.0M1614.0 1077.1v36.0M1610.1 1074.1h36.0M1628.1 1056.1v36.0M1624.6 1037.8h36.0M1642.6 1019.8v36.0M1638.7 1032.6h36.0M1656.7 1014.6v36.0M1653.1 995.0h36.0M1671.1 977.0v36.0M1667.3 949.8h36.0M1685.3 931.8v36.0M1681.5 920.9h36.0M1699.5 902.9v36.0M1692.7 886.6h36.0M1710.7 868.6v36.0M1707.1 863.7h36.0M1725.1 845.7v36.0M1721.5 829.6h36.0M1739.5 811.6v36.0M1735.3 832.8h36.0M1753.3 814.8v36.0M1749.9 812.5h36.0M1767.9 794.5v36.0M1453.5 205.3h36.0M1471.5 187.3v36.0M238.6 343.8l20.0 20.0M238.6 363.8l20.0 -20.0M250.0 244.3l20.0 20.0M250.0 264.3l20.0 -20.0M264.2 275.8l20.0 20.0M264.2 295.8l20.0 -20.0M278.6 304.2l20.0 20.0M278.6 324.2l20.0 -20.0M293.1 324.4l20.0 20.0M293.1 344.4l20.0 -20.0M307.1 343.8l20.0 20.0M307.1 363.8l20.0 -20.0M321.2 375.2l20.0 20.0M321.2 395.2l20.0 -20.0M332.7 415.1l20.0 20.0M332.7 435.1l20.0 -20.0M347.1 440.6l20.0 20.0M347.1 460.6l20.0 -20.0M361.4 449.3l20.0 20.0M361.4 469.3l20.0 -20.0M375.4 509.0l20.0 20.0M375.4 529.0l20.0 -20.0M389.6 509.0l20.0 20.0M389.6 529.0l20.0 -20.0M404.0 563.4l20.0 20.0M404.0 583.4l20.0 -20.0M418.0 591.5l20.0 20.0M418.0 611.5l20.0 -20.0M429.7 612.0l20.0 20.0M429.7 632.0l20.0 -20.0M443.8 640.3l20.0 20.0M443.8 660.3l20.0 -20.0M458.3 691.2l20.0 20.0M458.3 711.2l20.0 -20.0M472.3 700.2l20.0 20.0M472.3 720.2l20.0 -20.0M486.8 720.4l20.0 20.0M486.8 740.4l20.0 -20.0M501.2 746.4l20.0 20.0M501.2 766.4l20.0 -20.0M512.7 751.4l20.0 20.0M512.7 771.4l20.0 -20.0M526.8 780.3l20.0 20.0M526.8 800.3l20.0 -20.0M540.7 812.2l20.0 20.0M540.7 832.2l20.0 -20.0M554.8 811.0l20.0 20.0M554.8 831.0l20.0 -20.0M569.1 825.5l20.0 20.0M569.1 845.5l20.0 -20.0M583.1 845.9l20.0 20.0M583.1 865.9l20.0 -20.0M597.7 850.7l20.0 20.0M597.7 870.7l20.0 -20.0M609.2 871.8l20.0 20.0M609.2 891.8l20.0 -20.0M623.2 873.9l20.0 20.0M623.2 893.9l20.0 -20.0M637.6 885.5l20.0 20.0M637.6 905.5l20.0 -20.0M651.8 899.8l20.0 20.0M651.8 919.8l20.0 -20.0M666.1 907.8l20.0 20.0M666.1 927.8l20.0 -20.0M680.2 931.5l20.0 20.0M680.2 951.5l20.0 -20.0M691.7 911.1l20.0 20.0M691.7 931.1l20.0 -20.0M706.1 929.0l20.0 20.0M706.1 949.0l20.0 -20.0M720.6 920.1l20.0 20.0M720.6 940.1l20.0 -20.0M734.6 943.1l20.0 20.0M734.6 963.1l20.0 -20.0M748.6 925.1l20.0 20.0M748.6 945.1l20.0 -20.0M763.0 937.3l20.0 20.0M763.0 957.3l20.0 -20.0M777.0 927.5l20.0 20.0M777.0 947.5l20.0 -20.0M788.6 929.0l20.0 20.0M788.6 949.0l20.0 -20.0M803.1 925.1l20.0 20.0M803.1 945.1l20.0 -20.0M817.3 937.5l20.0 20.0M817.3 957.5l20.0 -20.0M831.5 938.8l20.0 20.0M831.5 958.8l20.0 -20.0M845.7 948.0l20.0 20.0M845.7 968.0l20.0 -20.0M860.1 948.0l20.0 20.0M860.1 968.0l20.0 -20.0M874.2 954.2l20.0 20.0M874.2 974.2l20.0 -20.0M885.7 928.3l20.0 20.0M885.7 948.3l20.0 -20.0M900.1 910.7l20.0 20.0M900.1 930.7l20.0 -20.0M914.3 922.9l20.0 20.0M914.3 942.9l20.0 -20.0M928.2 919.3l20.0 20.0M928.2 939.3l20.0 -20.0M942.5 916.0l20.0 20.0M942.5 936.0l20.0 -20.0M956.9 930.9l20.0 20.0M956.9 950.9l20.0 -20.0M968.3 943.1l20.0 20.0M968.3 963.1l20.0 -20.0M982.8 946.0l20.0 20.0M982.8 966.0l20.0 -20.0M996.8 949.2l20.0 20.0M996.8 969.2l20.0 -20.0M1010.9 945.0l20.0 20.0M1010.9 965.0l20.0 -20.0M1025.0 938.3l20.0 20.0M1025.0 958.3l20.0 -20.0M1039.6 920.4l20.0 20.0M1039.6 940.4l20.0 -20.0M1053.7 939.2l20.0 20.0M1053.7 959.2l20.0 -20.0M1065.1 942.2l20.0 20.0M1065.1 962.2l20.0 -20.0M1079.5 950.3l20.0 20.0M1079.5 970.3l20.0 -20.0M1093.6 965.5l20.0 20.0M1093.6 985.5l20.0 -20.0M1108.1 959.5l20.0 20.0M1108.1 979.5l20.0 -20.0M1122.2 964.5l20.0 20.0M1122.2 984.5l20.0 -20.0M1136.6 970.5l20.0 20.0M1136.6 990.5l20.0 -20.0M1148.1 974.5l20.0 20.0M1148.1 994.5l20.0 -20.0M1162.1 985.5l20.0 20.0M1162.1 1005.5l20.0 -20.0M1176.6 1004.9l20.0 20.0M1176.6 1024.9l20.0 -20.0M1190.3 1022.5l20.0 20.0M1190.3 1042.5l20.0 -20.0M1204.7 1040.0l20.0 20.0M1204.7 1060.0l20.0 -20.0M1219.3 1051.0l20.0 20.0M1219.3 1071.0l20.0 -20.0M1233.4 1054.5l20.0 20.0M1233.4 1074.5l20.0 -20.0M1244.8 1041.5l20.0 20.0M1244.8 1061.5l20.0 -20.0M1259.2 1033.5l20.0 20.0M1259.2 1053.5l20.0 -20.0M1273.3 1038.8l20.0 20.0M1273.3 1058.8l20.0 -20.0M1287.4 1053.9l20.0 20.0M1287.4 1073.9l20.0 -20.0M1302.0 1076.3l20.0 20.0M1302.0 1096.3l20.0 -20.0M1316.1 1091.5l20.0 20.0M1316.1 1111.5l20.0 -20.0M1330.7 1093.7l20.0 20.0M1330.7 1113.7l20.0 -20.0M1341.9 1098.1l20.0 20.0M1341.9 1118.1l20.0 -20.0M1356.5 1099.0l20.0 20.0M1356.5 1119.0l20.0 -20.0M1370.6 1124.8l20.0 20.0M1370.6 1144.8l20.0 -20.0M1384.6 1147.1l20.0 20.0M1384.6 1167.1l20.0 -20.0M1399.1 1161.8l20.0 20.0M1399.1 1181.8l20.0 -20.0M1413.5 1141.5l20.0 20.0M1413.5 1161.5l20.0 -20.0M1424.5 1136.0l20.0 20.0M1424.5 1156.0l20.0 -20.0M1438.6 1155.5l20.0 20.0M1438.6 1175.5l20.0 -20.0M1453.0 1175.5l20.0 20.0M1453.0 1195.5l20.0 -20.0M1467.3 1155.5l20.0 20.0M1467.3 1175.5l20.0 -20.0M1481.4 1124.7l20.0 20.0M1481.4 1144.7l20.0 -20.0M1495.4 1129.8l20.0 20.0M1495.4 1149.8l20.0 -20.0M1509.9 1164.8l20.0 20.0M1509.9 1184.8l20.0 -20.0M1521.3 1144.9l20.0 20.0M1521.3 1164.9l20.0 -20.0M1535.4 1118.8l20.0 20.0M1535.4 1138.8l20.0 -20.0M1549.5 1115.5l20.0 20.0M1549.5 1135.5l20.0 -20.0M1563.9 1124.9l20.0 20.0M1563.9 1144.9l20.0 -20.0M1578.5 1103.0l20.0 20.0M1578.5 1123.0l20.0 -20.0M1592.6 1079.2l20.0 20.0M1592.6 1099.2l20.0 -20.0M1604.0 1085.1l20.0 20.0M1604.0 1105.1l20.0 -20.0M1618.1 1064.1l20.0 20.0M1618.1 1084.1l20.0 -20.0M1632.6 1027.8l20.0 20.0M1632.6 1047.8l20.0 -20.0M1646.7 1022.6l20.0 20.0M1646.7 1042.6l20.0 -20.0M1661.1 985.0l20.0 20.0M1661.1 1005.0l20.0 -20.0M1675.3 939.8l20.0 20.0M1675.3 959.8l20.0 -20.0M1689.5 910.9l20.0 20.0M1689.5 930.9l20.0 -20.0M1700.7 876.6l20.0 20.0M1700.7 896.6l20.0 -20.0M1715.1 853.7l20.0 20.0M1715.1 873.7l20.0 -20.0M1729.5 819.6l20.0 20.0M1729.5 839.6l20.0 -20.0M1743.3 822.8l20.0 20.0M1743.3 842.8l20.0 -20.0M1757.9 802.5l20.0 20.0M1757.9 822.5l20.0 -20.0M1461.5 195.3l20.0 20.0M1461.5 215.3l20.0 -20.0"/>
</g>
<g id="after">
<path class="gu" d="M230.6 397.1h36.0M248.6 379.1v36.0M242.0 383.0h36.0M260.0 365.0v36.0M256.2 430.9h36.0M274.2 412.9v36.0M270.6 450.7h36.0M288.6 432.7v36.0M285.1 487.6h36.0M303.1 469.6v36.0M299.1 522.3h36.0M317.1 504.3v36.0M313.2 535.0h36.0M331.2 517.0v36.0M324.7 545.2h36.0M342.7 527.2v36.0M339.1 582.0h36.0M357.1 564.0v36.0M353.4 615.8h36.0M371.4 597.8v36.0M367.4 631.9h36.0M385.4 613.9v36.0M381.6 645.1h36.0M399.6 627.1v36.0M396.0 670.3h36.0M414.0 652.3v36.0M410.0 699.5h36.0M428.0 681.5v36.0M421.7 709.4h36.0M439.7 691.4v36.0M435.8 732.5h36.0M453.8 714.5v36.0M450.3 755.6h36.0M468.3 737.6v36.0M464.3 761.4h36.0M482.3 743.4v36.0M478.8 777.1h36.0M496.8 759.1v36.0M493.2 790.3h36.0M511.2 772.3v36.0M504.7 806.8h36.0M522.7 788.8v36.0M518.8 815.0h36.0M536.8 797.0v36.0M532.7 821.5h36.0M550.7 803.5v36.0M546.8 825.5h36.0M564.8 807.5v36.0M561.1 832.1h36.0M579.1 814.1v36.0M575.1 831.5h36.0M593.1 813.5v36.0M589.7 826.4h36.0M607.7 808.4v36.0M601.2 830.5h36.0M619.2 812.5v36.0M615.2 829.1h36.0M633.2 811.1v36.0M629.6 834.8h36.0M647.6 816.8v36.0M643.8 838.4h36.0M661.8 820.4v36.0M658.1 838.4h36.0M676.1 820.4v36.0M672.2 840.8h36.0M690.2 822.8v36.0M683.7 830.5h36.0M701.7 812.5v36.0M698.1 823.7h36.0M716.1 805.7v36.0M712.6 835.7h36.0M730.6 817.7v36.0M726.6 829.7h36.0M744.6 811.7v36.0M740.6 815.3h36.0M758.6 797.3v36.0M755.0 801.5h36.0M773.0 783.5v36.0M769.0 800.9h36.0M787.0 782.9v36.0M780.6 795.5h36.0M798.6 777.5v36.0M795.1 790.0h36.0M813.1 772.0v36.0M809.3 780.8h36.0M827.3 762.8v36.0M823.5 789.1h36.0M841.5 771.1v36.0M837.7 790.3h36.0M855.7 772.3v36.0M852.1 783.3h36.0M870.1 765.3v36.0M866.2 777.0h36.0M884.2 759.0v36.0M877.7 769.3h36.0M895.7 751.3v36.0M892.1 763.5h36.0M910.1 745.5v36.0M906.3 755.7h36.0M924.3 737.7v36.0M920.2 755.7h36.0M938.2 737.7v36.0M934.5 757.1h36.0M952.5 739.1v36.0M948.9 770.1h36.0M966.9 752.1v36.0M960.3 758.0h36.0M978.3 740.0v36.0M974.8 761.3h36.0M992.8 743.3v36.0M988.8 767.5h36.0M1006.8 749.5v36.0M1002.9 752.2h36.0M1020.9 734.2v36.0M1017.0 753.4h36.0M1035.0 735.4v36.0M1031.6 739.5h36.0M1049.6 721.5v36.0M1045.7 745.5h36.0M1063.7 727.5v36.0M1057.1 741.2h36.0M1075.1 723.2v36.0M1071.5 741.2h36.0M1089.5 723.2v36.0M1085.6 744.7h36.0M1103.6 726.7v36.0M1100.1 741.5h36.0M1118.1 723.5v36.0M1114.2 752.7h36.0M1132.2 734.7v36.0M1128.6 742.7h36.0M1146.6 724.7v36.0M1140.1 758.5h36.0M1158.1 740.5v36.0M1154.1 778.3h36.0M1172.1 760.3v36.0M1168.6 781.8h36.0M1186.6 763.8v36.0M1182.3 784.5h36.0M1200.3 766.5v36.0M1196.7 796.1h36.0M1214.7 778.1v36.0M1211.3 801.1h36.0M1229.3 783.1v36.0M1225.4 784.6h36.0M1243.4 766.6v36.0M1236.8 787.2h36.0M1254.8 769.2v36.0M1251.2 798.6h36.0M1269.2 780.6v36.0M1265.3 804.3h36.0M1283.3 786.3v36.0M1279.4 809.9h36.0M1297.4 791.9v36.0M1294.0 832.5h36.0M1312.0 814.5v36.0M1308.1 849.5h36.0M1326.1 831.5v36.0M1322.7 884.3h36.0M1340.7 866.3v36.0M1333.9 889.6h36.0M1351.9 871.6v36.0M1348.5 915.3h36.0M1366.5 897.3v36.0M1362.6 938.0h36.0M1380.6 920.0v36.0M1376.6 964.0h36.0M1394.6 946.0v36.0M1391.1 995.0h36.0M1409.1 977.0v36.0M1405.5 1005.9h36.0M1423.5 987.9v36.0M1416.5 1023.3h36.0M1434.5 1005.3v36.0M1430.6 1037.7h36.0M1448.6 1019.7v36.0M1445.0 1048.6h36.0M1463.0 1030.6v36.0M1459.3 1064.9h36.0M1477.3 1046.9v36.0M1473.4 1082.3h36.0M1491.4 1064.3v36.0M1487.4 1091.9h36.0M1505.4 1073.9v36.0M1501.9 1094.5h36.0M1519.9 1076.5v36.0M1513.3 1106.5h36.0M1531.3 1088.5v36.0M1527.4 1116.7h36.0M1545.4 1098.7v36.0M1541.5 1118.5h36.0M1559.5 1100.5v36.0M1555.9 1122.4h36.0M1573.9 1104.4v36.0M1570.5 1122.1h36.0M1588.5 1104.1v36.0M1584.6 1123.6h36.0M1602.6 1105.6v36.0M1596.0 1116.5h36.0M1614.0 1098.5v36.0M1610.1 1113.0h36.0M1628.1 1095.0v36.0M1624.6 1108.6h36.0M1642.6 1090.6v36.0M1638.7 1095.1h36.0M1656.7 1077.1v36.0M1653.1 1049.5h36.0M1671.1 1031.5v36.0M1667.3 1047.5h36.0M1685.3 1029.5v36.0M1681.5 1040.5h36.0M1699.5 1022.5v36.0M1692.7 1034.5h36.0M1710.7 1016.5v36.0M1707.1 1025.9h36.0M1725.1 1007.9v36.0M1721.5 1028.4h36.0M1739.5 1010.4v36.0M1735.3 1031.0h36.0M1753.3 1013.0v36.0M1749.9 1046.2h36.0M1767.9 1028.2v36.0M1453.5 296.8h36.0M1471.5 278.8v36.0M238.6 387.1l20.0 20.0M238.6 407.1l20.0 -20.0M250.0 373.0l20.0 20.0M250.0 393.0l20.0 -20.0M264.2 420.9l20.0 20.0M264.2 440.9l20.0 -20.0M278.6 440.7l20.0 20.0M278.6 460.7l20.0 -20.0M293.1 477.6l20.0 20.0M293.1 497.6l20.0 -20.0M307.1 512.3l20.0 20.0M307.1 532.3l20.0 -20.0M321.2 525.0l20.0 20.0M321.2 545.0l20.0 -20.0M332.7 535.2l20.0 20.0M332.7 555.2l20.0 -20.0M347.1 572.0l20.0 20.0M347.1 592.0l20.0 -20.0M361.4 605.8l20.0 20.0M361.4 625.8l20.0 -20.0M375.4 621.9l20.0 20.0M375.4 641.9l20.0 -20.0M389.6 635.1l20.0 20.0M389.6 655.1l20.0 -20.0M404.0 660.3l20.0 20.0M404.0 680.3l20.0 -20.0M418.0 689.5l20.0 20.0M418.0 709.5l20.0 -20.0M429.7 699.4l20.0 20.0M429.7 719.4l20.0 -20.0M443.8 722.5l20.0 20.0M443.8 742.5l20.0 -20.0M458.3 745.6l20.0 20.0M458.3 765.6l20.0 -20.0M472.3 751.4l20.0 20.0M472.3 771.4l20.0 -20.0M486.8 767.1l20.0 20.0M486.8 787.1l20.0 -20.0M501.2 780.3l20.0 20.0M501.2 800.3l20.0 -20.0M512.7 796.8l20.0 20.0M512.7 816.8l20.0 -20.0M526.8 805.0l20.0 20.0M526.8 825.0l20.0 -20.0M540.7 811.5l20.0 20.0M540.7 831.5l20.0 -20.0M554.8 815.5l20.0 20.0M554.8 835.5l20.0 -20.0M569.1 822.1l20.0 20.0M569.1 842.1l20.0 -20.0M583.1 821.5l20.0 20.0M583.1 841.5l20.0 -20.0M597.7 816.4l20.0 20.0M597.7 836.4l20.0 -20.0M609.2 820.5l20.0 20.0M609.2 840.5l20.0 -20.0M623.2 819.1l20.0 20.0M623.2 839.1l20.0 -20.0M637.6 824.8l20.0 20.0M637.6 844.8l20.0 -20.0M651.8 828.4l20.0 20.0M651.8 848.4l20.0 -20.0M666.1 828.4l20.0 20.0M666.1 848.4l20.0 -20.0M680.2 830.8l20.0 20.0M680.2 850.8l20.0 -20.0M691.7 820.5l20.0 20.0M691.7 840.5l20.0 -20.0M706.1 813.7l20.0 20.0M706.1 833.7l20.0 -20.0M720.6 825.7l20.0 20.0M720.6 845.7l20.0 -20.0M734.6 819.7l20.0 20.0M734.6 839.7l20.0 -20.0M748.6 805.3l20.0 20.0M748.6 825.3l20.0 -20.0M763.0 791.5l20.0 20.0M763.0 811.5l20.0 -20.0M777.0 790.9l20.0 20.0M777.0 810.9l20.0 -20.0M788.6 785.5l20.0 20.0M788.6 805.5l20.0 -20.0M803.1 780.0l20.0 20.0M803.1 800.0l20.0 -20.0M817.3 770.8l20.0 20.0M817.3 790.8l20.0 -20.0M831.5 779.1l20.0 20.0M831.5 799.1l20.0 -20.0M845.7 780.3l20.0 20.0M845.7 800.3l20.0 -20.0M860.1 773.3l20.0 20.0M860.1 793.3l20.0 -20.0M874.2 767.0l20.0 20.0M874.2 787.0l20.0 -20.0M885.7 759.3l20.0 20.0M885.7 779.3l20.0 -20.0M900.1 753.5l20.0 20.0M900.1 773.5l20.0 -20.0M914.3 745.7l20.0 20.0M914.3 765.7l20.0 -20.0M928.2 745.7l20.0 20.0M928.2 765.7l20.0 -20.0M942.5 747.1l20.0 20.0M942.5 767.1l20.0 -20.0M956.9 760.1l20.0 20.0M956.9 780.1l20.0 -20.0M968.3 748.0l20.0 20.0M968.3 768.0l20.0 -20.0M982.8 751.3l20.0 20.0M982.8 771.3l20.0 -20.0M996.8 757.5l20.0 20.0M996.8 777.5l20.0 -20.0M1010.9 742.2l20.0 20.0M1010.9 762.2l20.0 -20.0M1025.0 743.4l20.0 20.0M1025.0 763.4l20.0 -20.0M1039.6 729.5l20.0 20.0M1039.6 749.5l20.0 -20.0M1053.7 735.5l20.0 20.0M1053.7 755.5l20.0 -20.0M1065.1 731.2l20.0 20.0M1065.1 751.2l20.0 -20.0M1079.5 731.2l20.0 20.0M1079.5 751.2l20.0 -20.0M1093.6 734.7l20.0 20.0M1093.6 754.7l20.0 -20.0M1108.1 731.5l20.0 20.0M1108.1 751.5l20.0 -20.0M1122.2 742.7l20.0 20.0M1122.2 762.7l20.0 -20.0M1136.6 732.7l20.0 20.0M1136.6 752.7l20.0 -20.0M1148.1 748.5l20.0 20.0M1148.1 768.5l20.0 -20.0M1162.1 768.3l20.0 20.0M1162.1 788.3l20.0 -20.0M1176.6 771.8l20.0 20.0M1176.6 791.8l20.0 -20.0M1190.3 774.5l20.0 20.0M1190.3 794.5l20.0 -20.0M1204.7 786.1l20.0 20.0M1204.7 806.1l20.0 -20.0M1219.3 791.1l20.0 20.0M1219.3 811.1l20.0 -20.0M1233.4 774.6l20.0 20.0M1233.4 794.6l20.0 -20.0M1244.8 777.2l20.0 20.0M1244.8 797.2l20.0 -20.0M1259.2 788.6l20.0 20.0M1259.2 808.6l20.0 -20.0M1273.3 794.3l20.0 20.0M1273.3 814.3l20.0 -20.0M1287.4 799.9l20.0 20.0M1287.4 819.9l20.0 -20.0M1302.0 822.5l20.0 20.0M1302.0 842.5l20.0 -20.0M1316.1 839.5l20.0 20.0M1316.1 859.5l20.0 -20.0M1330.7 874.3l20.0 20.0M1330.7 894.3l20.0 -20.0M1341.9 879.6l20.0 20.0M1341.9 899.6l20.0 -20.0M1356.5 905.3l20.0 20.0M1356.5 925.3l20.0 -20.0M1370.6 928.0l20.0 20.0M1370.6 948.0l20.0 -20.0M1384.6 954.0l20.0 20.0M1384.6 974.0l20.0 -20.0M1399.1 985.0l20.0 20.0M1399.1 1005.0l20.0 -20.0M1413.5 995.9l20.0 20.0M1413.5 1015.9l20.0 -20.0M1424.5 1013.3l20.0 20.0M1424.5 1033.3l20.0 -20.0M1438.6 1027.7l20.0 20.0M1438.6 1047.7l20.0 -20.0M1453.0 1038.6l20.0 20.0M1453.0 1058.6l20.0 -20.0M1467.3 1054.9l20.0 20.0M1467.3 1074.9l20.0 -20.0M1481.4 1072.3l20.0 20.0M1481.4 1092.3l20.0 -20.0M1495.4 1081.9l20.0 20.0M1495.4 1101.9l20.0 -20.0M1509.9 1084.5l20.0 20.0M1509.9 1104.5l20.0 -20.0M1521.3 1096.5l20.0 20.0M1521.3 1116.5l20.0 -20.0M1535.4 1106.7l20.0 20.0M1535.4 1126.7l20.0 -20.0M1549.5 1108.5l20.0 20.0M1549.5 1128.5l20.0 -20.0M1563.9 1112.4l20.0 20.0M1563.9 1132.4l20.0 -20.0M1578.5 1112.1l20.0 20.0M1578.5 1132.1l20.0 -20.0M1592.6 1113.6l20.0 20.0M1592.6 1133.6l20.0 -20.0M1604.0 1106.5l20.0 20.0M1604.0 1126.5l20.0 -20.0M1618.1 1103.0l20.0 20.0M1618.1 1123.0l20.0 -20.0M1632.6 1098.6l20.0 20.0M1632.6 1118.6l20.0 -20.0M1646.7 1085.1l20.0 20.0M1646.7 1105.1l20.0 -20.0M1661.1 1039.5l20.0 20.0M1661.1 1059.5l20.0 -20.0M1675.3 1037.5l20.0 20.0M1675.3 1057.5l20.0 -20.0M1689.5 1030.5l20.0 20.0M1689.5 1050.5l20.0 -20.0M1700.7 1024.5l20.0 20.0M1700.7 1044.5l20.0 -20.0M1715.1 1015.9l20.0 20.0M1715.1 1035.9l20.0 -20.0M1729.5 1018.4l20.0 20.0M1729.5 1038.4l20.0 -20.0M1743.3 1021.0l20.0 20.0M1743.3 1041.0l20.0 -20.0M1757.9 1036.2l20.0 20.0M1757.9 1056.2l20.0 -20.0M1461.5 286.8l20.0 20.0M1461.5 306.8l20.0 -20.0"/>
<path class="gd" d="M238.6 387.1l20.0 20.0M238.6 407.1l20.0 -20.0M250.0 373.0l20.0 20.0M250.0 393.0l20.0 -20.0M264.2 420.9l20.0 20.0M264.2 440.9l20.0 -20.0M278.6 440.7l20.0 20.0M278.6 460.7l20.0 -20.0M293.1 477.6l20.0 20.0M293.1 497.6l20.0 -20.0M307.1 512.3l20.0 20.0M307.1 532.3l20.0 -20.0M321.2 525.0l20.0 20.0M321.2 545.0l20.0 -20.0M332.7 535.2l20.0 20.0M332.7 555.2l20.0 -20.0M347.1 572.0l20.0 20.0M347.1 592.0l20.0 -20.0M361.4 605.8l20.0 20.0M361.4 625.8l20.0 -20.0M375.4 621.9l20.0 20.0M375.4 641.9l20.0 -20.0M389.6 635.1l20.0 20.0M389.6 655.1l20.0 -20.0M404.0 660.3l20.0 20.0M404.0 680.3l20.0 -20.0M418.0 689.5l20.0 20.0M418.0 709.5l20.0 -20.0M429.7 699.4l20.0 20.0M429.7 719.4l20.0 -20.0M443.8 722.5l20.0 20.0M443.8 742.5l20.0 -20.0M458.3 745.6l20.0 20.0M458.3 765.6l20.0 -20.0M472.3 751.4l20.0 20.0M472.3 771.4l20.0 -20.0M486.8 767.1l20.0 20.0M486.8 787.1l20.0 -20.0M501.2 780.3l20.0 20.0M501.2 800.3l20.0 -20.0M512.7 796.8l20.0 20.0M512.7 816.8l20.0 -20.0M526.8 805.0l20.0 20.0M526.8 825.0l20.0 -20.0M540.7 811.5l20.0 20.0M540.7 831.5l20.0 -20.0M554.8 815.5l20.0 20.0M554.8 835.5l20.0 -20.0M569.1 822.1l20.0 20.0M569.1 842.1l20.0 -20.0M583.1 821.5l20.0 20.0M583.1 841.5l20.0 -20.0M597.7 816.4l20.0 20.0M597.7 836.4l20.0 -20.0M609.2 820.5l20.0 20.0M609.2 840.5l20.0 -20.0M623.2 819.1l20.0 20.0M623.2 839.1l20.0 -20.0M637.6 824.8l20.0 20.0M637.6 844.8l20.0 -20.0M651.8 828.4l20.0 20.0M651.8 848.4l20.0 -20.0M666.1 828.4l20.0 20.0M666.1 848.4l20.0 -20.0M680.2 830.8l20.0 20.0M680.2 850.8l20.0 -20.0M691.7 820.5l20.0 20.0M691.7 840.5l20.0 -20.0M706.1 813.7l20.0 20.0M706.1 833.7l20.0 -20.0M720.6 825.7l20.0 20.0M720.6 845.7l20.0 -20.0M734.6 819.7l20.0 20.0M734.6 839.7l20.0 -20.0M748.6 805.3l20.0 20.0M748.6 825.3l20.0 -20.0M763.0 791.5l20.0 20.0M763.0 811.5l20.0 -20.0M777.0 790.9l20.0 20.0M777.0 810.9l20.0 -20.0M788.6 785.5l20.0 20.0M788.6 805.5l20.0 -20.0M803.1 780.0l20.0 20.0M803.1 800.0l20.0 -20.0M817.3 770.8l20.0 20.0M817.3 790.8l20.0 -20.0M831.5 779.1l20.0 20.0M831.5 799.1l20.0 -20.0M845.7 780.3l20.0 20.0M845.7 800.3l20.0 -20.0M860.1 773.3l20.0 20.0M860.1 793.3l20.0 -20.0M874.2 767.0l20.0 20.0M874.2 787.0l20.0 -20.0M885.7 759.3l20.0 20.0M885.7 779.3l20.0 -20.0M900.1 753.5l20.0 20.0M900.1 773.5l20.0 -20.0M914.3 745.7l20.0 20.0M914.3 765.7l20.0 -20.0M928.2 745.7l20.0 20.0M928.2 765.7l20.0 -20.0M942.5 747.1l20.0 20.0M942.5 767.1l20.0 -20.0M956.9 760.1l20.0 20.0M956.9 780.1l20.0 -20.0M968.3 748.0l20.0 20.0M968.3 768.0l20.0 -20.0M982.8 751.3l20.0 20.0M982.8 771.3l20.0 -20.0M996.8 757.5l20.0 20.0M996.8 777.5l20.0 -20.0M1010.9 742.2l20.0 20.0M1010.9 762.2l20.0 -20.0M1025.0 743.4l20.0 20.0M1025.0 763.4l20.0 -20.0M1039.6 729.5l20.0 20.0M1039.6 749.5l20.0 -20.0M1053.7 735.5l20.0 20.0M1053.7 755.5l20.0 -20.0M1065.1 731.2l20.0 20.0M1065.1 751.2l20.0 -20.0M1079.5 731.2l20.0 20.0M1079.5 751.2l20.0 -20.0M1093.6 734.7l20.0 20.0M1093.6 754.7l20.0 -20.0M1108.1 731.5l20.0 20.0M1108.1 751.5l20.0 -20.0M1122.2 742.7l20.0 20.0M1122.2 762.7l20.0 -20.0M1136.6 732.7l20.0 20.0M1136.6 752.7l20.0 -20.0M1148.1 748.5l20.0 20.0M1148.1 768.5l20.0 -20.0M1162.1 768.3l20.0 20.0M1162.1 788.3l20.0 -20.0M1176.6 771.8l20.0 20.0M1176.6 791.8l20.0 -20.0M1190.3 774.5l20.0 20.0M1190.3 794.5l20.0 -20.0M1204.7 786.1l20.0 20.0M1204.7 806.1l20.0 -20.0M1219.3 791.1l20.0 20.0M1219.3 811.1l20.0 -20.0M1233.4 774.6l20.0 20.0M1233.4 794.6l20.0 -20.0M1244.8 777.2l20.0 20.0M1244.8 797.2l20.0 -20.0M1259.2 788.6l20.0 20.0M1259.2 808.6l20.0 -20.0M1273.3 794.3l20.0 20.0M1273.3 814.3l20.0 -20.0M1287.4 799.9l20.0 20.0M1287.4 819.9l20.0 -20.0M1302.0 822.5l20.0 20.0M1302.0 842.5l20.0 -20.0M1316.1 839.5l20.0 20.0M1316.1 859.5l20.0 -20.0M1330.7 874.3l20.0 20.0M1330.7 894.3l20.0 -20.0M1341.9 879.6l20.0 20.0M1341.9 899.6l20.0 -20.0M1356.5 905.3l20.0 20.0M1356.5 925.3l20.0 -20.0M1370.6 928.0l20.0 20.0M1370.6 948.0l20.0 -20.0M1384.6 954.0l20.0 20.0M1384.6 974.0l20.0 -20.0M1399.1 985.0l20.0 20.0M1399.1 1005.0l20.0 -20.0M1413.5 995.9l20.0 20.0M1413.5 1015.9l20.0 -20.0M1424.5 1013.3l20.0 20.0M1424.5 1033.3l20.0 -20.0M1438.6 1027.7l20.0 20.0M1438.6 1047.7l20.0 -20.0M1453.0 1038.6l20.0 20.0M1453.0 1058.6l20.0 -20.0M1467.3 1054.9l20.0 20.0M1467.3 1074.9l20.0 -20.0M1481.4 1072.3l20.0 20.0M1481.4 1092.3l20.0 -20.0M1495.4 1081.9l20.0 20.0M1495.4 1101.9l20.0 -20.0M1509.9 1084.5l20.0 20.0M1509.9 1104.5l20.0 -20.0M1521.3 1096.5l20.0 20.0M1521.3 1116.5l20.0 -20.0M1535.4 1106.7l20.0 20.0M1535.4 1126.7l20.0 -20.0M1549.5 1108.5l20.0 20.0M1549.5 1128.5l20.0 -20.0M1563.9 1112.4l20.0 20.0M1563.9 1132.4l20.0 -20.0M1578.5 1112.1l20.0 20.0M1578.5 1132.1l20.0 -20.0M1592.6 1113.6l20.0 20.0M1592.6 1133.6l20.0 -20.0M1604.0 1106.5l20.0 20.0M1604.0 1126.5l20.0 -20.0M1618.1 1103.0l20.0 20.0M1618.1 1123.0l20.0 -20.0M1632.6 1098.6l20.0 20.0M1632.6 1118.6l20.0 -20.0M1646.7 1085.1l20.0 20.0M1646.7 1105.1l20.0 -20.0M1661.1 1039.5l20.0 20.0M1661.1 1059.5l20.0 -20.0M1675.3 1037.5l20.0 20.0M1675.3 1057.5l20.0 -20.0M1689.5 1030.5l20.0 20.0M1689.5 1050.5l20.0 -20.0M1700.7 1024.5l20.0 20.0M1700.7 1044.5l20.0 -20.0M1715.1 1015.9l20.0 20.0M1715.1 1035.9l20.0 -20.0M1729.5 1018.4l20.0 20.0M1729.5 1038.4l20.0 -20.0M1743.3 1021.0l20.0 20.0M1743.3 1041.0l20.0 -20.0M1757.9 1036.2l20.0 20.0M1757.9 1056.2l20.0 -20.0M1461.5 286.8l20.0 20.0M1461.5 306.8l20.0 -20.0"/>
<path class="gp" d="M230.6 397.1h36.0M248.6 379.1v36.0M242.0 383.0h36.0M260.0 365.0v36.0M256.2 430.9h36.0M274.2 412.9v36.0M270.6 450.7h36.0M288.6 432.7v36.0M285.1 487.6h36.0M303.1 469.6v36.0M299.1 522.3h36.0M317.1 504.3v36.0M313.2 535.0h36.0M331.2 517.0v36.0M324.7 545.2h36.0M342.7 527.2v36.0M339.1 582.0h36.0M357.1 564.0v36.0M353.4 615.8h36.0M371.4 597.8v36.0M367.4 631.9h36.0M385.4 613.9v36.0M381.6 645.1h36.0M399.6 627.1v36.0M396.0 670.3h36.0M414.0 652.3v36.0M410.0 699.5h36.0M428.0 681.5v36.0M421.7 709.4h36.0M439.7 691.4v36.0M435.8 732.5h36.0M453.8 714.5v36.0M450.3 755.6h36.0M468.3 737.6v36.0M464.3 761.4h36.0M482.3 743.4v36.0M478.8 777.1h36.0M496.8 759.1v36.0M493.2 790.3h36.0M511.2 772.3v36.0M504.7 806.8h36.0M522.7 788.8v36.0M518.8 815.0h36.0M536.8 797.0v36.0M532.7 821.5h36.0M550.7 803.5v36.0M546.8 825.5h36.0M564.8 807.5v36.0M561.1 832.1h36.0M579.1 814.1v36.0M575.1 831.5h36.0M593.1 813.5v36.0M589.7 826.4h36.0M607.7 808.4v36.0M601.2 830.5h36.0M619.2 812.5v36.0M615.2 829.1h36.0M633.2 811.1v36.0M629.6 834.8h36.0M647.6 816.8v36.0M643.8 838.4h36.0M661.8 820.4v36.0M658.1 838.4h36.0M676.1 820.4v36.0M672.2 840.8h36.0M690.2 822.8v36.0M683.7 830.5h36.0M701.7 812.5v36.0M698.1 823.7h36.0M716.1 805.7v36.0M712.6 835.7h36.0M730.6 817.7v36.0M726.6 829.7h36.0M744.6 811.7v36.0M740.6 815.3h36.0M758.6 797.3v36.0M755.0 801.5h36.0M773.0 783.5v36.0M769.0 800.9h36.0M787.0 782.9v36.0M780.6 795.5h36.0M798.6 777.5v36.0M795.1 790.0h36.0M813.1 772.0v36.0M809.3 780.8h36.0M827.3 762.8v36.0M823.5 789.1h36.0M841.5 771.1v36.0M837.7 790.3h36.0M855.7 772.3v36.0M852.1 783.3h36.0M870.1 765.3v36.0M866.2 777.0h36.0M884.2 759.0v36.0M877.7 769.3h36.0M895.7 751.3v36.0M892.1 763.5h36.0M910.1 745.5v36.0M906.3 755.7h36.0M924.3 737.7v36.0M920.2 755.7h36.0M938.2 737.7v36.0M934.5 757.1h36.0M952.5 739.1v36.0M948.9 770.1h36.0M966.9 752.1v36.0M960.3 758.0h36.0M978.3 740.0v36.0M974.8 761.3h36.0M992.8 743.3v36.0M988.8 767.5h36.0M1006.8 749.5v36.0M1002.9 752.2h36.0M1020.9 734.2v36.0M1017.0 753.4h36.0M1035.0 735.4v36.0M1031.6 739.5h36.0M1049.6 721.5v36.0M1045.7 745.5h36.0M1063.7 727.5v36.0M1057.1 741.2h36.0M1075.1 723.2v36.0M1071.5 741.2h36.0M1089.5 723.2v36.0M1085.6 744.7h36.0M1103.6 726.7v36.0M1100.1 741.5h36.0M1118.1 723.5v36.0M1114.2 752.7h36.0M1132.2 734.7v36.0M1128.6 742.7h36.0M1146.6 724.7v36.0M1140.1 758.5h36.0M1158.1 740.5v36.0M1154.1 778.3h36.0M1172.1 760.3v36.0M1168.6 781.8h36.0M1186.6 763.8v36.0M1182.3 784.5h36.0M1200.3 766.5v36.0M1196.7 796.1h36.0M1214.7 778.1v36.0M1211.3 801.1h36.0M1229.3 783.1v36.0M1225.4 784.6h36.0M1243.4 766.6v36.0M1236.8 787.2h36.0M1254.8 769.2v36.0M1251.2 798.6h36.0M1269.2 780.6v36.0M1265.3 804.3h36.0M1283.3 786.3v36.0M1279.4 809.9h36.0M1297.4 791.9v36.0M1294.0 832.5h36.0M1312.0 814.5v36.0M1308.1 849.5h36.0M1326.1 831.5v36.0M1322.7 884.3h36.0M1340.7 866.3v36.0M1333.9 889.6h36.0M1351.9 871.6v36.0M1348.5 915.3h36.0M1366.5 897.3v36.0M1362.6 938.0h36.0M1380.6 920.0v36.0M1376.6 964.0h36.0M1394.6 946.0v36.0M1391.1 995.0h36.0M1409.1 977.0v36.0M1405.5 1005.9h36.0M1423.5 987.9v36.0M1416.5 1023.3h36.0M1434.5 1005.3v36.0M1430.6 1037.7h36.0M1448.6 1019.7v36.0M1445.0 1048.6h36.0M1463.0 1030.6v36.0M1459.3 1064.9h36.0M1477.3 1046.9v36.0M1473.4 1082.3h36.0M1491.4 1064.3v36.0M1487.4 1091.9h36.0M1505.4 1073.9v36.0M1501.9 1094.5h36.0M1519.9 1076.5v36.0M1513.3 1106.5h36.0M1531.3 1088.5v36.0M1527.4 1116.7h36.0M1545.4 1098.7v36.0M1541.5 1118.5h36.0M1559.5 1100.5v36.0M1555.9 1122.4h36.0M1573.9 1104.4v36.0M1570.5 1122.1h36.0M1588.5 1104.1v36.0M1584.6 1123.6h36.0M1602.6 1105.6v36.0M1596.0 1116.5h36.0M1614.0 1098.5v36.0M1610.1 1113.0h36.0M1628.1 1095.0v36.0M1624.6 1108.6h36.0M1642.6 1090.6v36.0M1638.7 1095.1h36.0M1656.7 1077.1v36.0M1653.1 1049.5h36.0M1671.1 1031.5v36.0M1667.3 1047.5h36.0M1685.3 1029.5v36.0M1681.5 1040.5h36.0M1699.5 1022.5v36.0M1692.7 1034.5h36.0M1710.7 1016.5v36.0M1707.1 1025.9h36.0M1725.1 1007.9v36.0M1721.5 1028.4h36.0M1739.5 1010.4v36.0M1735.3 1031.0h36.0M1753.3 1013.0v36.0M1749.9 1046.2h36.0M1767.9 1028.2v36.0M1453.5 296.8h36.0M1471.5 278.8v36.0"/>
<path class="gh" d="M230.6 397.1h36.0M248.6 379.1v36.0M242.0 383.0h36.0M260.0 365.0v36.0M256.2 430.9h36.0M274.2 412.9v36.0M270.6 450.7h36.0M288.6 432.7v36.0M285.1 487.6h36.0M303.1 469.6v36.0M299.1 522.3h36.0M317.1 504.3v36.0M313.2 535.0h36.0M331.2 517.0v36.0M324.7 545.2h36.0M342.7 527.2v36.0M339.1 582.0h36.0M357.1 564.0v36.0M353.4 615.8h36.0M371.4 597.8v36.0M367.4 631.9h36.0M385.4 613.9v36.0M381.6 645.1h36.0M399.6 627.1v36.0M396.0 670.3h36.0M414.0 652.3v36.0M410.0 699.5h36.0M428.0 681.5v36.0M421.7 709.4h36.0M439.7 691.4v36.0M435.8 732.5h36.0M453.8 714.5v36.0M450.3 755.6h36.0M468.3 737.6v36.0M464.3 761.4h36.0M482.3 743.4v36.0M478.8 777.1h36.0M496.8 759.1v36.0M493.2 790.3h36.0M511.2 772.3v36.0M504.7 806.8h36.0M522.7 788.8v36.0M518.8 815.0h36.0M536.8 797.0v36.0M532.7 821.5h36.0M550.7 803.5v36.0M546.8 825.5h36.0M564.8 807.5v36.0M561.1 832.1h36.0M579.1 814.1v36.0M575.1 831.5h36.0M593.1 813.5v36.0M589.7 826.4h36.0M607.7 808.4v36.0M601.2 830.5h36.0M619.2 812.5v36.0M615.2 829.1h36.0M633.2 811.1v36.0M629.6 834.8h36.0M647.6 816.8v36.0M643.8 838.4h36.0M661.8 820.4v36.0M658.1 838.4h36.0M676.1 820.4v36.0M672.2 840.8h36.0M690.2 822.8v36.0M683.7 830.5h36.0M701.7 812.5v36.0M698.1 823.7h36.0M716.1 805.7v36.0M712.6 835.7h36.0M730.6 817.7v36.0M726.6 829.7h36.0M744.6 811.7v36.0M740.6 815.3h36.0M758.6 797.3v36.0M755.0 801.5h36.0M773.0 783.5v36.0M769.0 800.9h36.0M787.0 782.9v36.0M780.6 795.5h36.0M798.6 777.5v36.0M795.1 790.0h36.0M813.1 772.0v36.0M809.3 780.8h36.0M827.3 762.8v36.0M823.5 789.1h36.0M841.5 771.1v36.0M837.7 790.3h36.0M855.7 772.3v36.0M852.1 783.3h36.0M870.1 765.3v36.0M866.2 777.0h36.0M884.2 759.0v36.0M877.7 769.3h36.0M895.7 751.3v36.0M892.1 763.5h36.0M910.1 745.5v36.0M906.3 755.7h36.0M924.3 737.7v36.0M920.2 755.7h36.0M938.2 737.7v36.0M934.5 757.1h36.0M952.5 739.1v36.0M948.9 770.1h36.0M966.9 752.1v36.0M960.3 758.0h36.0M978.3 740.0v36.0M974.8 761.3h36.0M992.8 743.3v36.0M988.8 767.5h36.0M1006.8 749.5v36.0M1002.9 752.2h36.0M1020.9 734.2v36.0M1017.0 753.4h36.0M1035.0 735.4v36.0M1031.6 739.5h36.0M1049.6 721.5v36.0M1045.7 745.5h36.0M1063.7 727.5v36.0M1057.1 741.2h36.0M1075.1 723.2v36.0M1071.5 741.2h36.0M1089.5 723.2v36.0M1085.6 744.7h36.0M1103.6 726.7v36.0M1100.1 741.5h36.0M1118.1 723.5v36.0M1114.2 752.7h36.0M1132.2 734.7v36.0M1128.6 742.7h36.0M1146.6 724.7v36.0M1140.1 758.5h36.0M1158.1 740.5v36.0M1154.1 778.3h36.0M1172.1 760.3v36.0M1168.6 781.8h36.0M1186.6 763.8v36.0M1182.3 784.5h36.0M1200.3 766.5v36.0M1196.7 796.1h36.0M1214.7 778.1v36.0M1211.3 801.1h36.0M1229.3 783.1v36.0M1225.4 784.6h36.0M1243.4 766.6v36.0M1236.8 787.2h36.0M1254.8 769.2v36.0M1251.2 798.6h36.0M1269.2 780.6v36.0M1265.3 804.3h36.0M1283.3 786.3v36.0M1279.4 809.9h36.0M1297.4 791.9v36.0M1294.0 832.5h36.0M1312.0 814.5v36.0M1308.1 849.5h36.0M1326.1 831.5v36.0M1322.7 884.3h36.0M1340.7 866.3v36.0M1333.9 889.6h36.0M1351.9 871.6v36.0M1348.5 915.3h36.0M1366.5 897.3v36.0M1362.6 938.0h36.0M1380.6 920.0v36.0M1376.6 964.0h36.0M1394.6 946.0v36.0M1391.1 995.0h36.0M1409.1 977.0v36.0M1405.5 1005.9h36.0M1423.5 987.9v36.0M1416.5 1023.3h36.0M1434.5 1005.3v36.0M1430.6 1037.7h36.0M1448.6 1019.7v36.0M1445.0 1048.6h36.0M1463.0 1030.6v36.0M1459.3 1064.9h36.0M1477.3 1046.9v36.0M1473.4 1082.3h36.0M1491.4 1064.3v36.0M1487.4 1091.9h36.0M1505.4 1073.9v36.0M1501.9 1094.5h36.0M1519.9 1076.5v36.0M1513.3 1106.5h36.0M1531.3 1088.5v36.0M1527.4 1116.7h36.0M1545.4 1098.7v36.0M1541.5 1118.5h36.0M1559.5 1100.5v36.0M1555.9 1122.4h36.0M1573.9 1104.4v36.0M1570.5 1122.1h36.0M1588.5 1104.1v36.0M1584.6 1123.6h36.0M1602.6 1105.6v36.0M1596.0 1116.5h36.0M1614.0 1098.5v36.0M1610.1 1113.0h36.0M1628.1 1095.0v36.0M1624.6 1108.6h36.0M1642.6 1090.6v36.0M1638.7 1095.1h36.0M1656.7 1077.1v36.0M1653.1 1049.5h36.0M1671.1 1031.5v36.0M1667.3 1047.5h36.0M1685.3 1029.5v36.0M1681.5 1040.5h36.0M1699.5 1022.5v36.0M1692.7 1034.5h36.0M1710.7 1016.5v36.0M1707.1 1025.9h36.0M1725.1 1007.9v36.0M1721.5 1028.4h36.0M1739.5 1010.4v36.0M1735.3 1031.0h36.0M1753.3 1013.0v36.0M1749.9 1046.2h36.0M1767.9 1028.2v36.0M1453.5 296.8h36.0M1471.5 278.8v36.0M238.6 387.1l20.0 20.0M238.6 407.1l20.0 -20.0M250.0 373.0l20.0 20.0M250.0 393.0l20.0 -20.0M264.2 420.9l20.0 20.0M264.2 440.9l20.0 -20.0M278.6 440.7l20.0 20.0M278.6 460.7l20.0 -20.0M293.1 477.6l20.0 20.0M293.1 497.6l20.0 -20.0M307.1 512.3l20.0 20.0M307.1 532.3l20.0 -20.0M321.2 525.0l20.0 20.0M321.2 545.0l20.0 -20.0M332.7 535.2l20.0 20.0M332.7 555.2l20.0 -20.0M347.1 572.0l20.0 20.0M347.1 592.0l20.0 -20.0M361.4 605.8l20.0 20.0M361.4 625.8l20.0 -20.0M375.4 621.9l20.0 20.0M375.4 641.9l20.0 -20.0M389.6 635.1l20.0 20.0M389.6 655.1l20.0 -20.0M404.0 660.3l20.0 20.0M404.0 680.3l20.0 -20.0M418.0 689.5l20.0 20.0M418.0 709.5l20.0 -20.0M429.7 699.4l20.0 20.0M429.7 719.4l20.0 -20.0M443.8 722.5l20.0 20.0M443.8 742.5l20.0 -20.0M458.3 745.6l20.0 20.0M458.3 765.6l20.0 -20.0M472.3 751.4l20.0 20.0M472.3 771.4l20.0 -20.0M486.8 767.1l20.0 20.0M486.8 787.1l20.0 -20.0M501.2 780.3l20.0 20.0M501.2 800.3l20.0 -20.0M512.7 796.8l20.0 20.0M512.7 816.8l20.0 -20.0M526.8 805.0l20.0 20.0M526.8 825.0l20.0 -20.0M540.7 811.5l20.0 20.0M540.7 831.5l20.0 -20.0M554.8 815.5l20.0 20.0M554.8 835.5l20.0 -20.0M569.1 822.1l20.0 20.0M569.1 842.1l20.0 -20.0M583.1 821.5l20.0 20.0M583.1 841.5l20.0 -20.0M597.7 816.4l20.0 20.0M597.7 836.4l20.0 -20.0M609.2 820.5l20.0 20.0M609.2 840.5l20.0 -20.0M623.2 819.1l20.0 20.0M623.2 839.1l20.0 -20.0M637.6 824.8l20.0 20.0M637.6 844.8l20.0 -20.0M651.8 828.4l20.0 20.0M651.8 848.4l20.0 -20.0M666.1 828.4l20.0 20.0M666.1 848.4l20.0 -20.0M680.2 830.8l20.0 20.0M680.2 850.8l20.0 -20.0M691.7 820.5l20.0 20.0M691.7 840.5l20.0 -20.0M706.1 813.7l20.0 20.0M706.1 833.7l20.0 -20.0M720.6 825.7l20.0 20.0M720.6 845.7l20.0 -20.0M734.6 819.7l20.0 20.0M734.6 839.7l20.0 -20.0M748.6 805.3l20.0 20.0M748.6 825.3l20.0 -20.0M763.0 791.5l20.0 20.0M763.0 811.5l20.0 -20.0M777.0 790.9l20.0 20.0M777.0 810.9l20.0 -20.0M788.6 785.5l20.0 20.0M788.6 805.5l20.0 -20.0M803.1 780.0l20.0 20.0M803.1 800.0l20.0 -20.0M817.3 770.8l20.0 20.0M817.3 790.8l20.0 -20.0M831.5 779.1l20.0 20.0M831.5 799.1l20.0 -20.0M845.7 780.3l20.0 20.0M845.7 800.3l20.0 -20.0M860.1 773.3l20.0 20.0M860.1 793.3l20.0 -20.0M874.2 767.0l20.0 20.0M874.2 787.0l20.0 -20.0M885.7 759.3l20.0 20.0M885.7 779.3l20.0 -20.0M900.1 753.5l20.0 20.0M900.1 773.5l20.0 -20.0M914.3 745.7l20.0 20.0M914.3 765.7l20.0 -20.0M928.2 745.7l20.0 20.0M928.2 765.7l20.0 -20.0M942.5 747.1l20.0 20.0M942.5 767.1l20.0 -20.0M956.9 760.1l20.0 20.0M956.9 780.1l20.0 -20.0M968.3 748.0l20.0 20.0M968.3 768.0l20.0 -20.0M982.8 751.3l20.0 20.0M982.8 771.3l20.0 -20.0M996.8 757.5l20.0 20.0M996.8 777.5l20.0 -20.0M1010.9 742.2l20.0 20.0M1010.9 762.2l20.0 -20.0M1025.0 743.4l20.0 20.0M1025.0 763.4l20.0 -20.0M1039.6 729.5l20.0 20.0M1039.6 749.5l20.0 -20.0M1053.7 735.5l20.0 20.0M1053.7 755.5l20.0 -20.0M1065.1 731.2l20.0 20.0M1065.1 751.2l20.0 -20.0M1079.5 731.2l20.0 20.0M1079.5 751.2l20.0 -20.0M1093.6 734.7l20.0 20.0M1093.6 754.7l20.0 -20.0M1108.1 731.5l20.0 20.0M1108.1 751.5l20.0 -20.0M1122.2 742.7l20.0 20.0M1122.2 762.7l20.0 -20.0M1136.6 732.7l20.0 20.0M1136.6 752.7l20.0 -20.0M1148.1 748.5l20.0 20.0M1148.1 768.5l20.0 -20.0M1162.1 768.3l20.0 20.0M1162.1 788.3l20.0 -20.0M1176.6 771.8l20.0 20.0M1176.6 791.8l20.0 -20.0M1190.3 774.5l20.0 20.0M1190.3 794.5l20.0 -20.0M1204.7 786.1l20.0 20.0M1204.7 806.1l20.0 -20.0M1219.3 791.1l20.0 20.0M1219.3 811.1l20.0 -20.0M1233.4 774.6l20.0 20.0M1233.4 794.6l20.0 -20.0M1244.8 777.2l20.0 20.0M1244.8 797.2l20.0 -20.0M1259.2 788.6l20.0 20.0M1259.2 808.6l20.0 -20.0M1273.3 794.3l20.0 20.0M1273.3 814.3l20.0 -20.0M1287.4 799.9l20.0 20.0M1287.4 819.9l20.0 -20.0M1302.0 822.5l20.0 20.0M1302.0 842.5l20.0 -20.0M1316.1 839.5l20.0 20.0M1316.1 859.5l20.0 -20.0M1330.7 874.3l20.0 20.0M1330.7 894.3l20.0 -20.0M1341.9 879.6l20.0 20.0M1341.9 899.6l20.0 -20.0M1356.5 905.3l20.0 20.0M1356.5 925.3l20.0 -20.0M1370.6 928.0l20.0 20.0M1370.6 948.0l20.0 -20.0M1384.6 954.0l20.0 20.0M1384.6 974.0l20.0 -20.0M1399.1 985.0l20.0 20.0M1399.1 1005.0l20.0 -20.0M1413.5 995.9l20.0 20.0M1413.5 1015.9l20.0 -20.0M1424.5 1013.3l20.0 20.0M1424.5 1033.3l20.0 -20.0M1438.6 1027.7l20.0 20.0M1438.6 1047.7l20.0 -20.0M1453.0 1038.6l20.0 20.0M1453.0 1058.6l20.0 -20.0M1467.3 1054.9l20.0 20.0M1467.3 1074.9l20.0 -20.0M1481.4 1072.3l20.0 20.0M1481.4 1092.3l20.0 -20.0M1495.4 1081.9l20.0 20.0M1495.4 1101.9l20.0 -20.0M1509.9 1084.5l20.0 20.0M1509.9 1104.5l20.0 -20.0M1521.3 1096.5l20.0 20.0M1521.3 1116.5l20.0 -20.0M1535.4 1106.7l20.0 20.0M1535.4 1126.7l20.0 -20.0M1549.5 1108.5l20.0 20.0M1549.5 1128.5l20.0 -20.0M1563.9 1112.4l20.0 20.0M1563.9 1132.4l20.0 -20.0M1578.5 1112.1l20.0 20.0M1578.5 1132.1l20.0 -20.0M1592.6 1113.6l20.0 20.0M1592.6 1133.6l20.0 -20.0M1604.0 1106.5l20.0 20.0M1604.0 1126.5l20.0 -20.0M1618.1 1103.0l20.0 20.0M1618.1 1123.0l20.0 -20.0M1632.6 1098.6l20.0 20.0M1632.6 1118.6l20.0 -20.0M1646.7 1085.1l20.0 20.0M1646.7 1105.1l20.0 -20.0M1661.1 1039.5l20.0 20.0M1661.1 1059.5l20.0 -20.0M1675.3 1037.5l20.0 20.0M1675.3 1057.5l20.0 -20.0M1689.5 1030.5l20.0 20.0M1689.5 1050.5l20.0 -20.0M1700.7 1024.5l20.0 20.0M1700.7 1044.5l20.0 -20.0M1715.1 1015.9l20.0 20.0M1715.1 1035.9l20.0 -20.0M1729.5 1018.4l20.0 20.0M1729.5 1038.4l20.0 -20.0M1743.3 1021.0l20.0 20.0M1743.3 1041.0l20.0 -20.0M1757.9 1036.2l20.0 20.0M1757.9 1056.2l20.0 -20.0M1461.5 286.8l20.0 20.0M1461.5 306.8l20.0 -20.0"/>
</g>
</g>
<g id="legend">
<text id="leg1" class="leg" x="1535.8" y="234.8">before</text>
<text id="leg2" class="leg" x="1535.8" y="322.9">after</text>
</g>
</svg>
</body>
</html>
